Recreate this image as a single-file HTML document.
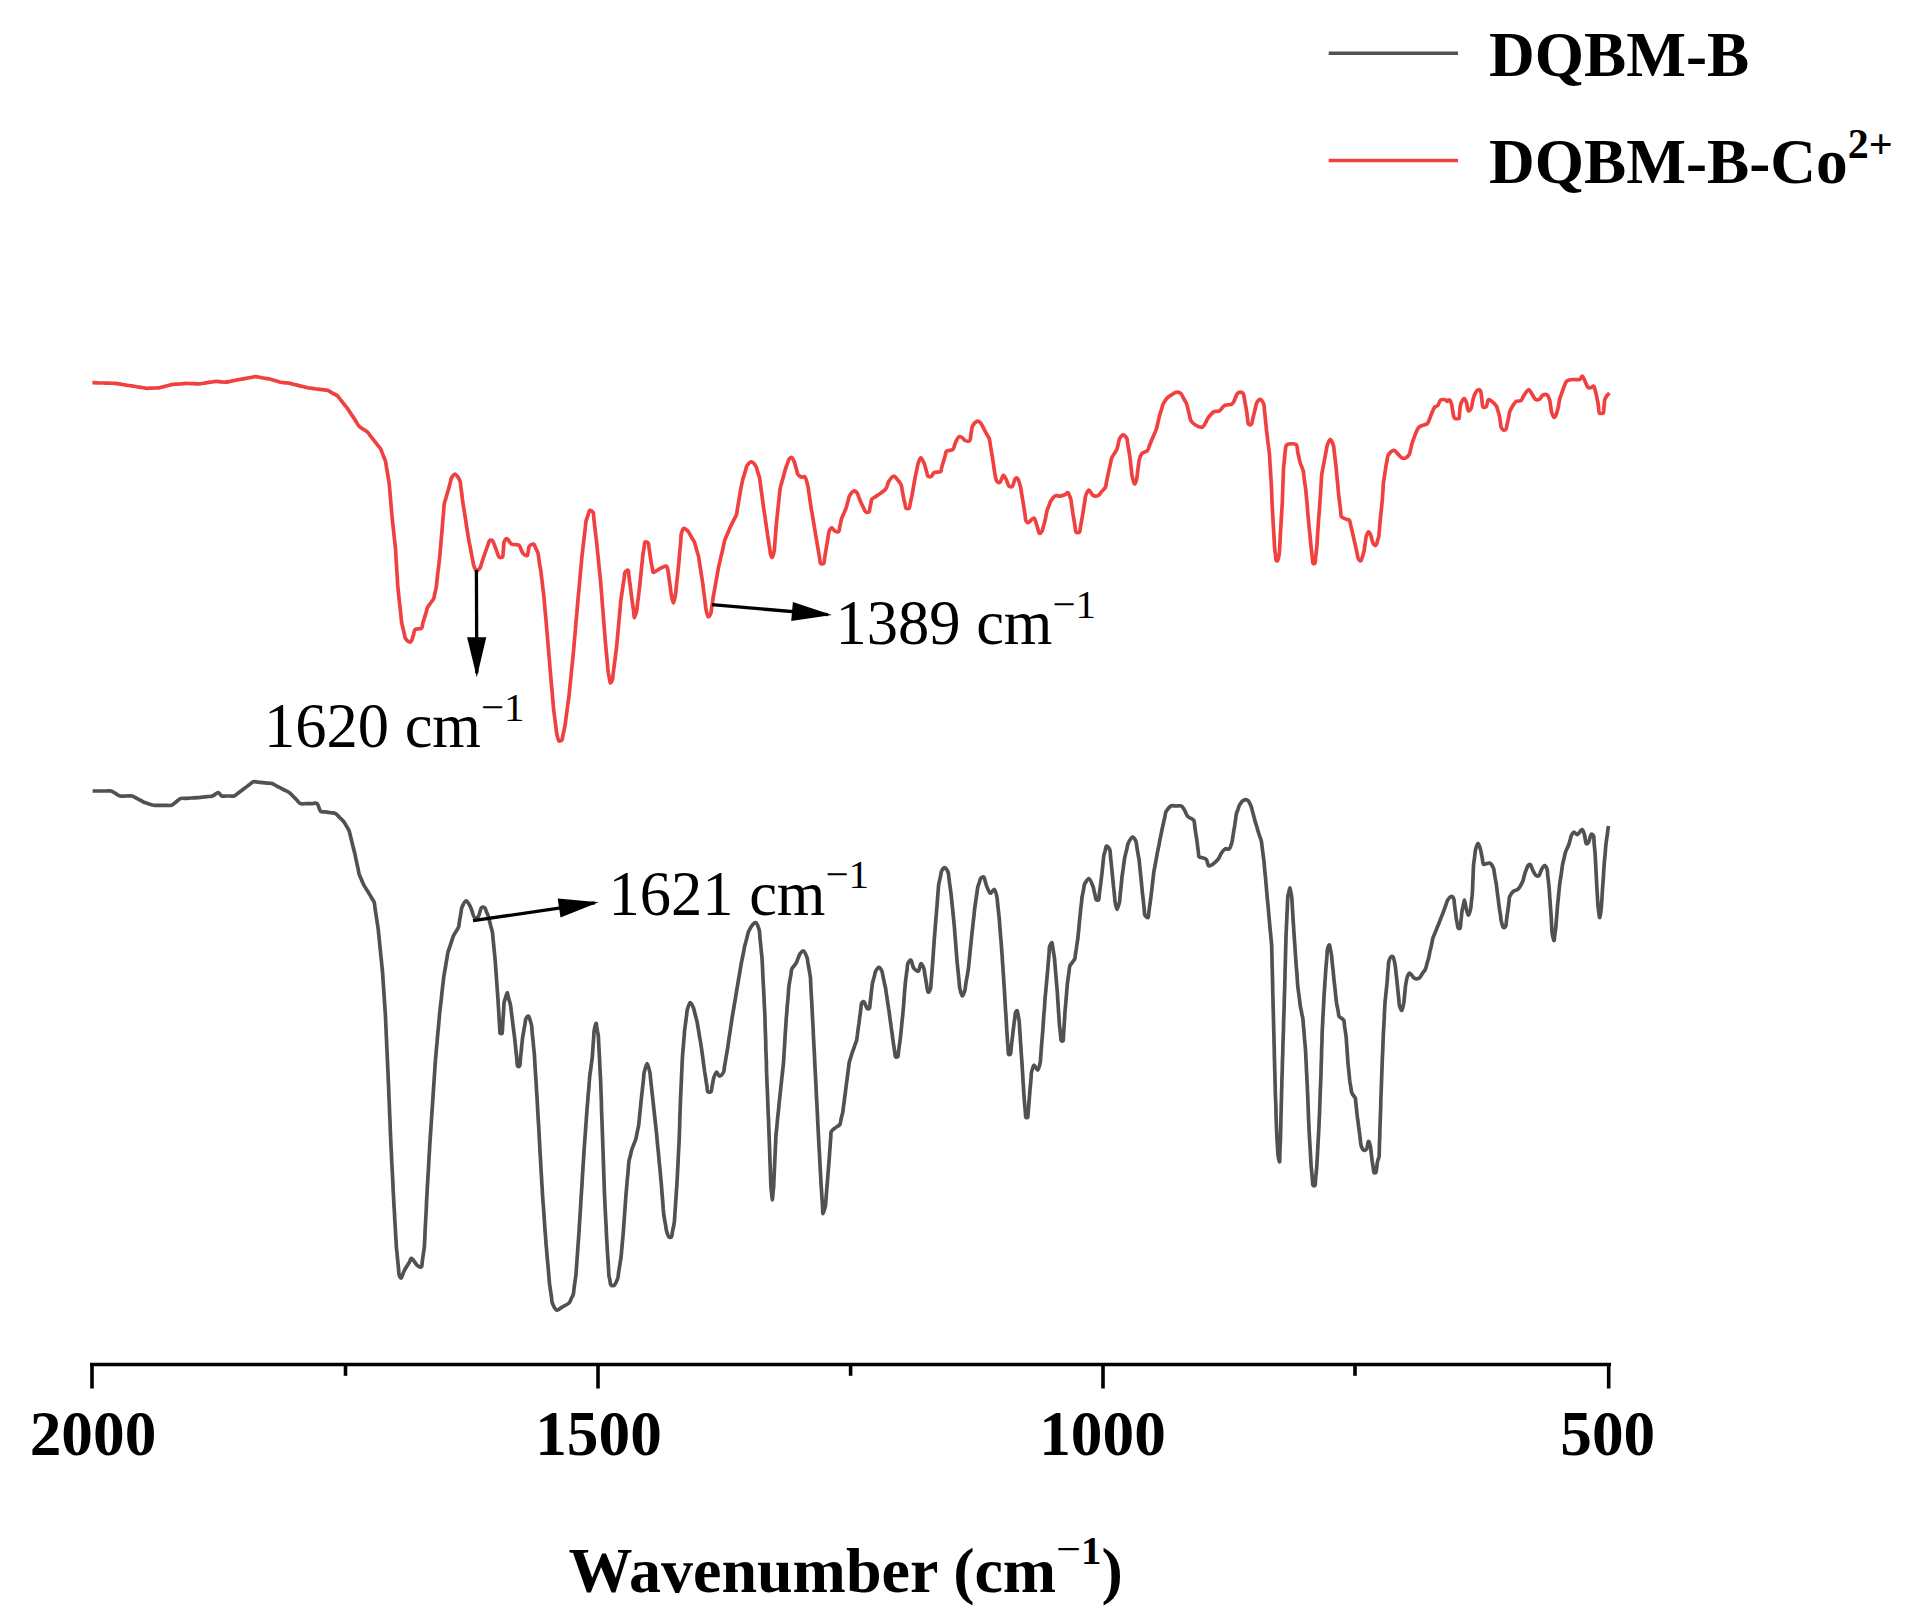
<!DOCTYPE html>
<html lang="en"><head><meta charset="utf-8"><title>FTIR spectra</title>
<style>
html,body{margin:0;padding:0;background:#fff;}
body{width:1909px;height:1617px;overflow:hidden;}
svg{display:block;}
text{font-family:"Liberation Serif","Times New Roman",serif;fill:#000;}
.tk{font-weight:bold;font-size:63.3px;}
.xl{font-weight:bold;font-size:64px;}
.lg{font-weight:bold;}
.an{font-weight:normal;}
</style></head><body>
<svg width="1909" height="1617" viewBox="0 0 1909 1617">
<rect width="1909" height="1617" fill="#fff"/>
<path fill="none" stroke="#F14040" stroke-width="3.7" stroke-linejoin="round" stroke-linecap="butt" d="M92.4,382.7C93.3,382.7 96.2,382.8 98.0,382.9C99.8,382.9 101.7,382.9 103.5,383.0C105.3,383.1 107.2,383.1 109.0,383.2C110.8,383.3 112.7,383.2 114.6,383.4C116.5,383.6 118.5,383.9 120.4,384.2C122.3,384.5 124.2,384.8 126.1,385.1C128.0,385.4 130.1,385.6 131.9,385.9C133.7,386.2 135.2,386.4 136.9,386.7C138.6,387.0 140.2,387.2 141.8,387.5C143.5,387.8 145.3,388.2 146.8,388.3C148.3,388.4 149.5,388.2 150.9,388.1C152.3,388.1 153.7,388.1 155.1,388.0C156.5,387.9 157.8,388.0 159.2,387.8C160.6,387.6 161.9,387.1 163.3,386.7C164.7,386.3 166.0,386.0 167.4,385.7C168.8,385.4 170.0,384.9 171.5,384.6C173.0,384.4 174.8,384.3 176.5,384.2C178.2,384.1 179.8,383.9 181.4,383.8C183.1,383.7 184.9,383.4 186.4,383.4C187.9,383.4 189.1,383.6 190.5,383.6C191.9,383.7 193.2,383.6 194.6,383.7C196.0,383.8 197.0,384.0 198.7,383.9C200.3,383.8 202.6,383.4 204.5,383.1C206.4,382.8 208.4,382.5 210.3,382.2C212.2,381.9 214.3,381.5 216.1,381.4C217.9,381.3 219.4,381.7 221.0,381.8C222.6,381.9 224.2,382.3 225.9,382.2C227.6,382.1 229.2,381.5 230.9,381.2C232.6,380.9 234.2,380.5 235.8,380.2C237.5,379.9 239.2,379.5 240.8,379.2C242.5,378.9 244.0,378.7 245.7,378.4C247.3,378.1 249.0,377.8 250.7,377.5C252.3,377.2 253.9,376.7 255.6,376.7C257.2,376.7 259.0,377.2 260.6,377.5C262.2,377.8 263.9,378.1 265.5,378.4C267.1,378.7 268.9,378.8 270.5,379.2C272.1,379.6 273.8,380.2 275.4,380.7C277.0,381.2 278.7,381.8 280.4,382.2C282.1,382.6 283.8,382.6 285.4,382.8C287.0,383.0 288.5,383.0 290.3,383.4C292.1,383.8 294.2,384.4 296.1,384.9C298.0,385.4 299.9,385.8 301.8,386.3C303.7,386.8 305.8,387.5 307.6,387.8C309.4,388.1 311.0,388.2 312.6,388.4C314.2,388.6 315.9,388.9 317.5,389.1C319.1,389.3 320.8,389.5 322.4,389.7C324.0,389.9 325.7,389.7 327.4,390.3C329.1,390.9 330.8,392.2 332.4,393.1C334.0,394.0 335.9,394.7 337.3,395.8C338.7,396.9 339.5,398.5 340.6,399.9C341.7,401.3 342.8,402.6 343.9,404.0C345.0,405.4 346.1,406.6 347.2,408.1C348.3,409.6 349.3,411.2 350.3,412.8C351.3,414.4 352.4,415.8 353.4,417.4C354.4,418.9 355.4,420.6 356.4,422.1C357.4,423.7 357.7,425.1 359.5,426.7C361.3,428.3 365.2,430.1 367.0,431.6C368.8,433.1 369.3,434.5 370.4,435.9C371.5,437.3 372.7,438.8 373.8,440.2C374.9,441.6 376.1,443.2 377.2,444.6C378.3,446.1 379.8,447.5 380.6,448.9C381.4,450.3 381.6,451.6 382.2,453.0C382.8,454.4 383.3,455.8 383.9,457.2C384.4,458.6 385.1,459.7 385.5,461.3C385.9,462.9 386.1,465.0 386.4,466.9C386.7,468.8 387.1,470.6 387.4,472.5C387.7,474.4 388.0,476.1 388.3,478.0C388.6,479.9 389.0,481.7 389.2,483.6C389.4,485.5 389.5,487.5 389.7,489.4C389.9,491.3 390.0,493.2 390.2,495.1C390.4,497.0 390.5,499.0 390.7,500.9C390.9,502.8 391.0,504.8 391.2,506.7C391.4,508.6 391.5,510.5 391.7,512.4C391.9,514.3 392.0,516.2 392.2,518.2C392.4,520.2 392.6,522.1 392.8,524.1C393.0,526.1 393.3,528.1 393.5,530.1C393.7,532.1 393.9,534.0 394.1,536.0C394.3,538.0 394.6,540.0 394.8,542.0C395.0,544.0 395.2,546.0 395.4,547.9C395.6,549.8 395.7,551.7 395.8,553.6C395.9,555.5 396.0,557.3 396.1,559.2C396.2,561.1 396.4,563.0 396.5,564.9C396.6,566.8 396.7,568.6 396.8,570.5C396.9,572.4 397.1,574.3 397.2,576.2C397.3,578.1 397.4,579.9 397.5,581.8C397.6,583.7 397.7,585.6 397.9,587.5C398.1,589.4 398.3,591.4 398.5,593.3C398.7,595.2 398.9,597.1 399.1,599.0C399.3,600.9 399.6,602.9 399.8,604.8C400.0,606.7 400.2,608.7 400.4,610.6C400.6,612.5 400.8,614.4 401.0,616.3C401.2,618.2 401.3,620.2 401.6,622.1C401.9,624.0 402.4,625.7 402.8,627.5C403.2,629.3 403.7,631.0 404.1,632.8C404.5,634.6 404.5,636.7 405.3,638.2C406.1,639.7 408.0,641.5 409.0,641.9C410.0,642.3 410.8,641.8 411.5,640.7C412.2,639.6 412.8,637.0 413.4,635.1C414.0,633.2 413.9,630.6 415.2,629.5C416.5,628.4 420.1,629.4 421.4,628.3C422.7,627.2 422.4,624.8 422.9,623.0C423.4,621.2 424.0,619.5 424.5,617.8C425.0,616.0 425.6,614.2 426.1,612.5C426.6,610.8 426.9,608.9 427.6,607.3C428.4,605.7 429.6,604.5 430.6,603.0C431.6,601.5 433.0,600.3 433.7,598.6C434.4,596.9 434.5,594.9 434.9,593.0C435.3,591.1 435.9,589.3 436.2,587.5C436.5,585.7 436.6,583.9 436.8,582.1C437.0,580.3 437.2,578.6 437.4,576.8C437.6,575.0 437.8,573.2 438.0,571.4C438.2,569.6 438.5,567.8 438.7,566.0C438.9,564.2 439.1,562.5 439.3,560.7C439.5,558.9 439.7,557.1 439.9,555.3C440.1,553.5 440.1,551.8 440.3,550.1C440.5,548.4 440.7,546.6 440.8,544.9C440.9,543.2 441.1,541.4 441.2,539.7C441.3,538.0 441.5,536.2 441.7,534.5C441.9,532.8 442.0,531.0 442.1,529.3C442.2,527.6 442.4,526.0 442.5,524.3C442.6,522.6 442.8,520.9 442.9,519.2C443.0,517.5 443.2,515.9 443.4,514.2C443.5,512.5 443.7,510.8 443.8,509.1C443.9,507.4 443.9,505.8 444.2,504.1C444.5,502.5 445.1,500.8 445.6,499.2C446.1,497.6 446.5,495.9 447.0,494.3C447.5,492.7 448.0,490.9 448.4,489.4C448.8,487.9 449.1,486.8 449.5,485.5C449.9,484.2 450.1,483.0 450.5,481.7C450.9,480.4 450.8,479.1 451.6,477.8C452.4,476.6 453.7,473.7 455.1,474.2C456.5,474.7 459.1,478.9 460.0,481.0C460.8,483.1 460.5,484.9 460.8,486.8C461.1,488.7 461.4,490.7 461.6,492.6C461.9,494.5 462.1,496.4 462.3,498.3C462.6,500.2 462.8,502.2 463.1,504.1C463.4,506.0 463.7,507.8 464.0,509.7C464.3,511.6 464.6,513.4 464.9,515.3C465.2,517.2 465.5,519.0 465.8,520.9C466.1,522.8 466.3,524.6 466.6,526.5C466.9,528.4 467.2,530.2 467.5,532.1C467.8,534.0 468.1,535.9 468.4,537.7C468.7,539.6 469.0,541.4 469.4,543.2C469.8,545.0 470.1,546.9 470.5,548.7C470.9,550.5 471.1,552.3 471.5,554.1C471.9,555.9 472.2,557.8 472.6,559.6C473.0,561.4 473.0,563.3 473.6,565.1C474.2,566.9 475.1,569.8 476.2,570.3C477.2,570.8 479.0,569.4 479.9,568.2C480.8,567.0 481.1,564.8 481.7,563.0C482.3,561.2 482.8,559.5 483.4,557.7C484.0,556.0 484.7,554.0 485.2,552.5C485.7,551.0 486.1,549.9 486.6,548.6C487.1,547.3 487.5,546.1 488.0,544.8C488.5,543.5 488.6,541.5 489.4,540.9C490.2,540.2 491.6,539.7 492.6,540.9C493.7,542.1 494.6,545.7 495.7,548.3C496.8,550.9 497.7,555.3 498.9,556.7C500.1,558.1 502.0,557.5 502.7,556.7C503.2,555.9 503.0,553.4 503.2,551.8C503.4,550.2 503.5,548.5 503.6,546.9C503.8,545.3 503.6,543.4 504.1,542.0C504.7,540.6 506.1,538.4 507.3,538.8C508.5,539.1 509.6,543.0 511.5,544.1C513.4,545.2 517.2,544.2 518.8,545.1C520.4,546.0 520.3,547.9 521.0,549.3C521.7,550.7 522.1,552.5 523.1,553.5C524.1,554.5 526.4,556.0 527.3,555.6C528.2,555.2 527.9,552.5 528.3,550.9C528.6,549.3 528.5,547.3 529.4,546.2C530.3,545.1 532.5,543.8 533.6,544.1C534.7,544.5 535.0,546.9 535.7,548.3C536.4,549.7 537.3,551.0 537.8,552.5C538.3,554.0 538.4,555.6 538.6,557.2C538.9,558.8 539.0,560.4 539.3,562.0C539.5,563.6 539.8,565.1 540.1,566.7C540.4,568.3 540.7,569.7 540.9,571.4C541.1,573.1 541.3,575.1 541.5,576.9C541.7,578.7 542.0,580.5 542.2,582.3C542.4,584.1 542.6,586.0 542.8,587.8C543.0,589.6 543.3,591.4 543.5,593.2C543.7,595.0 543.9,596.8 544.1,598.7C544.3,600.6 544.4,602.7 544.6,604.7C544.8,606.7 544.9,608.6 545.1,610.6C545.3,612.6 545.5,614.6 545.7,616.6C545.9,618.6 546.0,620.6 546.2,622.6C546.4,624.6 546.5,626.5 546.7,628.5C546.9,630.5 547.0,632.6 547.2,634.5C547.4,636.4 547.6,638.1 547.7,639.9C547.9,641.7 548.0,643.5 548.1,645.3C548.2,647.1 548.5,648.9 548.6,650.7C548.8,652.5 548.9,654.3 549.0,656.1C549.1,657.9 549.4,659.7 549.5,661.5C549.6,663.3 549.8,665.1 549.9,666.9C550.0,668.7 550.2,670.4 550.4,672.3C550.6,674.2 550.7,676.3 550.9,678.3C551.1,680.3 551.2,682.2 551.4,684.2C551.6,686.2 551.8,688.2 552.0,690.2C552.2,692.2 552.3,694.2 552.5,696.2C552.7,698.2 552.8,700.1 553.0,702.1C553.2,704.1 553.3,706.3 553.5,708.1C553.7,709.9 553.9,711.4 554.1,713.1C554.3,714.8 554.6,716.5 554.8,718.2C555.0,719.9 555.2,721.5 555.4,723.2C555.6,724.9 555.9,726.6 556.1,728.3C556.3,730.0 556.2,731.2 556.7,733.3C557.2,735.3 557.9,739.5 558.8,740.6C559.7,741.7 561.3,740.6 562.0,739.6C562.7,738.6 562.6,736.3 563.0,734.7C563.4,733.1 563.8,731.4 564.1,729.8C564.5,728.2 564.8,726.6 565.1,724.9C565.4,723.2 565.6,721.4 565.8,719.6C566.0,717.9 566.3,716.1 566.5,714.4C566.7,712.6 567.0,710.9 567.2,709.1C567.4,707.3 567.7,705.5 567.9,703.8C568.1,702.0 568.4,700.4 568.6,698.6C568.8,696.9 569.1,695.1 569.3,693.3C569.5,691.5 569.6,689.8 569.8,688.0C570.0,686.2 570.1,684.5 570.3,682.8C570.5,681.0 570.7,679.2 570.9,677.5C571.1,675.8 571.2,674.0 571.4,672.3C571.6,670.5 571.7,668.8 571.9,667.0C572.1,665.2 572.3,663.5 572.5,661.8C572.7,660.0 572.8,658.2 573.0,656.5C573.2,654.8 573.3,653.1 573.5,651.3C573.7,649.5 573.9,647.7 574.0,645.9C574.1,644.1 574.2,642.3 574.4,640.5C574.5,638.7 574.7,637.0 574.9,635.2C575.1,633.4 575.2,631.6 575.4,629.8C575.5,628.0 575.6,626.2 575.8,624.4C575.9,622.6 576.1,620.8 576.3,619.0C576.5,617.2 576.6,615.5 576.8,613.7C576.9,611.9 577.1,610.1 577.2,608.3C577.4,606.5 577.5,604.8 577.7,602.9C577.9,601.0 578.0,599.0 578.2,597.1C578.4,595.2 578.6,593.3 578.8,591.4C579.0,589.5 579.1,587.5 579.3,585.6C579.5,583.7 579.6,581.7 579.8,579.8C580.0,577.9 580.1,575.9 580.3,574.0C580.5,572.1 580.7,570.1 580.9,568.2C581.1,566.3 581.2,564.4 581.4,562.5C581.6,560.6 581.7,558.5 581.9,556.7C582.1,554.9 582.3,553.3 582.5,551.6C582.7,549.9 582.9,548.2 583.1,546.5C583.3,544.8 583.5,543.1 583.7,541.4C583.9,539.7 584.1,537.9 584.3,536.2C584.5,534.5 584.7,532.8 584.9,531.1C585.1,529.4 585.3,527.7 585.5,526.0C585.7,524.3 585.7,522.6 586.1,520.9C586.5,519.2 587.3,517.4 587.9,515.6C588.5,513.9 588.8,510.9 589.7,510.4C590.6,509.9 592.4,511.2 593.1,512.5C593.8,513.8 593.6,516.4 593.8,518.4C594.0,520.4 594.3,522.3 594.5,524.3C594.7,526.3 595.0,528.2 595.2,530.2C595.4,532.2 595.7,534.1 595.9,536.1C596.1,538.1 596.4,540.1 596.6,542.0C596.8,543.9 596.9,545.5 597.1,547.2C597.3,549.0 597.4,550.7 597.6,552.5C597.8,554.3 598.0,556.0 598.2,557.8C598.4,559.5 598.5,561.3 598.7,563.0C598.9,564.7 599.0,566.5 599.2,568.2C599.4,570.0 599.6,571.7 599.8,573.5C600.0,575.3 600.1,577.0 600.3,578.8C600.5,580.5 600.6,582.2 600.8,584.0C600.9,585.8 601.1,587.7 601.2,589.5C601.4,591.3 601.6,593.1 601.7,594.9C601.9,596.7 602.0,598.6 602.1,600.4C602.2,602.2 602.4,604.1 602.5,605.9C602.6,607.7 602.9,609.6 603.0,611.4C603.1,613.2 603.3,615.0 603.4,616.8C603.5,618.6 603.7,620.5 603.8,622.3C603.9,624.1 604.1,626.0 604.2,627.8C604.4,629.6 604.6,631.4 604.7,633.2C604.9,635.0 605.0,636.9 605.1,638.7C605.2,640.6 605.4,642.4 605.6,644.3C605.8,646.2 605.9,648.0 606.1,649.9C606.3,651.8 606.5,653.6 606.7,655.5C606.9,657.4 607.0,659.2 607.2,661.1C607.4,663.0 607.5,664.8 607.7,666.7C607.9,668.6 608.0,670.5 608.2,672.3C608.5,674.1 608.9,675.8 609.2,677.5C609.6,679.2 609.8,682.4 610.3,682.8C610.8,683.2 611.9,681.1 612.4,679.7C612.9,678.3 612.9,676.1 613.1,674.3C613.3,672.5 613.6,670.6 613.8,668.8C614.0,667.0 614.3,665.2 614.5,663.4C614.7,661.6 615.0,659.8 615.2,658.0C615.4,656.2 615.7,654.3 615.9,652.5C616.1,650.7 616.4,649.0 616.6,647.1C616.8,645.2 616.9,643.2 617.1,641.3C617.3,639.4 617.4,637.4 617.6,635.5C617.8,633.6 618.0,631.6 618.2,629.7C618.4,627.8 618.5,625.9 618.7,624.0C618.9,622.1 619.0,620.1 619.2,618.2C619.4,616.3 619.6,614.3 619.8,612.4C620.0,610.5 620.1,608.5 620.3,606.6C620.5,604.7 620.6,602.7 620.8,600.8C621.0,598.9 621.3,597.0 621.6,595.1C621.9,593.2 622.2,591.3 622.5,589.4C622.8,587.5 623.0,585.7 623.3,583.8C623.6,581.9 623.9,580.0 624.2,578.1C624.5,576.2 624.3,573.7 625.0,572.4C625.7,571.1 627.6,569.8 628.2,570.3C628.8,570.8 628.6,573.5 628.8,575.1C629.0,576.7 629.2,578.4 629.4,580.0C629.6,581.6 629.9,583.2 630.1,584.8C630.3,586.4 630.5,588.1 630.7,589.7C630.9,591.3 631.1,592.7 631.3,594.5C631.5,596.3 631.8,598.4 632.1,600.3C632.4,602.2 632.6,604.1 632.9,606.0C633.2,607.9 633.4,609.9 633.7,611.8C634.0,613.7 634.0,617.7 634.5,617.6C635.0,617.5 636.1,613.2 636.6,611.3C637.1,609.4 637.0,608.0 637.2,606.3C637.4,604.6 637.6,602.9 637.8,601.2C638.0,599.5 638.3,597.9 638.5,596.2C638.7,594.5 638.9,592.8 639.1,591.1C639.3,589.4 639.5,587.8 639.7,586.1C639.9,584.4 640.0,582.6 640.2,580.9C640.4,579.1 640.6,577.4 640.8,575.6C641.0,573.9 641.1,572.1 641.3,570.4C641.5,568.6 641.6,566.9 641.8,565.1C642.0,563.4 642.2,561.6 642.4,559.9C642.6,558.1 642.7,556.2 642.9,554.6C643.1,553.0 643.4,551.8 643.6,550.4C643.8,549.0 644.1,547.6 644.3,546.2C644.5,544.8 644.4,542.5 645.0,542.0C645.6,541.5 647.5,542.0 648.2,543.0C648.9,544.0 648.7,546.3 649.0,548.0C649.3,549.7 649.5,551.3 649.8,553.0C650.0,554.7 650.2,556.3 650.5,558.0C650.8,559.7 651.0,561.4 651.3,563.0C651.6,564.6 651.9,566.1 652.3,567.7C652.6,569.3 652.3,572.1 653.4,572.4C654.5,572.7 656.6,570.3 658.7,569.3C660.8,568.2 664.4,565.8 666.0,566.1C667.6,566.5 667.6,569.5 668.1,571.4C668.6,573.2 668.6,575.3 668.9,577.2C669.2,579.1 669.4,581.1 669.7,583.0C670.0,584.9 670.2,586.8 670.5,588.7C670.8,590.6 670.8,592.1 671.3,594.5C671.8,596.9 672.7,602.9 673.4,602.9C674.1,602.9 675.0,596.9 675.5,594.5C676.0,592.1 675.9,590.6 676.1,588.6C676.3,586.6 676.5,584.7 676.7,582.7C676.9,580.8 677.2,578.9 677.4,576.9C677.6,574.9 677.8,573.0 678.0,571.0C678.2,569.0 678.4,567.0 678.6,565.1C678.8,563.2 679.0,561.5 679.1,559.8C679.2,558.0 679.4,556.4 679.5,554.6C679.6,552.9 679.8,551.1 680.0,549.3C680.2,547.5 680.4,545.8 680.5,544.0C680.6,542.2 680.8,540.5 680.9,538.8C681.0,537.0 680.9,535.2 681.4,533.5C681.9,531.8 682.8,528.6 683.9,528.3C685.0,527.9 687.0,530.3 688.1,531.4C689.2,532.5 689.5,533.7 690.2,534.9C690.9,536.1 691.6,537.3 692.3,538.5C693.0,539.7 693.8,540.6 694.4,542.0C695.0,543.4 695.3,545.3 695.8,546.9C696.3,548.5 696.7,550.2 697.2,551.8C697.7,553.4 698.2,555.0 698.6,556.7C699.0,558.4 699.1,560.4 699.4,562.2C699.7,564.0 700.0,565.8 700.3,567.6C700.6,569.4 700.8,571.3 701.1,573.1C701.4,574.9 701.7,576.7 702.0,578.5C702.3,580.3 702.6,582.2 702.8,584.0C703.0,585.8 703.2,587.3 703.4,589.0C703.6,590.7 703.9,592.4 704.1,594.1C704.3,595.8 704.5,597.4 704.7,599.1C704.9,600.8 705.2,602.5 705.4,604.2C705.6,605.9 705.5,607.1 706.0,609.2C706.5,611.3 707.3,615.9 708.1,616.6C708.9,617.3 710.2,614.9 710.8,613.4C711.4,611.9 711.3,609.7 711.6,607.8C711.9,605.9 712.2,604.1 712.5,602.2C712.8,600.3 713.0,598.5 713.3,596.6C713.6,594.7 714.0,592.7 714.4,590.7C714.8,588.7 715.0,586.8 715.4,584.8C715.8,582.8 716.1,581.0 716.5,579.0C716.9,577.0 717.1,575.1 717.5,573.1C717.9,571.1 718.2,569.1 718.6,567.2C719.0,565.3 719.5,563.5 719.9,561.7C720.3,559.9 720.7,558.0 721.1,556.2C721.5,554.4 722.0,552.6 722.4,550.8C722.8,549.0 723.2,547.1 723.6,545.3C724.0,543.5 724.4,541.4 724.9,539.8C725.4,538.2 726.1,537.0 726.7,535.6C727.3,534.2 727.8,532.8 728.4,531.4C729.0,530.0 729.6,528.6 730.2,527.2C730.9,525.8 731.6,524.4 732.3,523.0C733.0,521.6 733.7,520.2 734.4,518.8C735.1,517.4 736.0,516.1 736.5,514.6C737.0,513.1 737.0,511.3 737.3,509.6C737.6,507.9 737.9,506.2 738.2,504.5C738.5,502.8 738.7,501.2 739.0,499.5C739.3,497.8 739.6,496.1 739.9,494.4C740.2,492.7 740.4,491.0 740.7,489.4C741.0,487.8 741.4,486.1 741.7,484.5C742.0,482.9 742.3,481.3 742.7,479.7C743.1,478.1 743.7,476.6 744.2,475.0C744.7,473.4 745.1,471.8 745.6,470.2C746.1,468.6 746.1,466.9 747.1,465.5C748.1,464.1 750.1,461.8 751.6,461.9C753.1,462.0 755.1,465.0 756.0,466.4C756.9,467.8 756.8,469.0 757.2,470.3C757.6,471.6 758.0,472.8 758.4,474.1C758.8,475.4 759.3,476.5 759.6,478.0C759.9,479.5 760.1,481.5 760.3,483.3C760.5,485.1 760.8,486.9 761.0,488.7C761.2,490.5 761.5,492.2 761.8,494.0C762.0,495.8 762.3,497.6 762.5,499.4C762.7,501.2 763.0,503.0 763.2,504.7C763.4,506.4 763.6,508.1 763.9,509.8C764.1,511.5 764.5,513.1 764.7,514.8C765.0,516.5 765.2,518.2 765.4,519.9C765.6,521.6 765.9,523.2 766.1,524.9C766.4,526.6 766.6,528.3 766.9,530.0C767.1,531.7 767.4,533.4 767.6,535.0C767.9,536.6 768.1,538.3 768.4,539.9C768.6,541.5 768.9,543.2 769.1,544.8C769.4,546.4 769.6,548.0 769.9,549.6C770.1,551.2 770.2,553.2 770.6,554.5C771.0,555.8 771.8,557.8 772.4,557.2C773.0,556.6 773.8,553.0 774.2,551.0C774.6,549.0 774.6,547.2 774.7,545.3C774.9,543.4 775.0,541.5 775.1,539.6C775.2,537.7 775.5,535.8 775.6,533.9C775.8,532.0 775.9,530.1 776.0,528.2C776.1,526.3 776.3,524.4 776.5,522.5C776.7,520.6 776.9,518.8 777.1,516.9C777.3,515.0 777.5,513.1 777.7,511.2C777.9,509.3 778.1,507.5 778.3,505.6C778.5,503.7 778.7,501.8 778.9,499.9C779.1,498.0 779.3,496.1 779.5,494.2C779.7,492.3 779.8,490.4 780.1,488.6C780.4,486.9 781.0,485.3 781.4,483.7C781.8,482.1 782.3,480.5 782.8,478.9C783.2,477.3 783.7,475.6 784.1,474.0C784.5,472.4 784.9,470.7 785.4,469.1C785.9,467.5 786.6,465.8 787.2,464.2C787.8,462.6 788.2,460.4 789.0,459.3C789.8,458.2 790.8,457.1 791.7,457.5C792.6,457.9 793.7,460.5 794.3,461.9C794.9,463.3 795.1,464.7 795.5,466.1C795.9,467.5 796.3,468.8 796.7,470.2C797.1,471.6 797.1,473.2 797.9,474.4C798.7,475.5 800.2,476.7 801.4,477.1C802.6,477.6 804.0,475.8 805.0,477.1C806.0,478.4 807.1,482.8 807.7,485.1C808.3,487.4 808.3,489.0 808.6,490.9C808.9,492.8 809.2,494.7 809.5,496.6C809.8,498.5 810.0,500.5 810.3,502.4C810.6,504.3 810.9,506.3 811.2,508.2C811.5,510.1 811.8,511.7 812.1,513.5C812.4,515.3 812.7,517.1 813.0,518.9C813.3,520.7 813.6,522.4 813.9,524.2C814.2,526.0 814.5,527.8 814.8,529.6C815.1,531.4 815.4,533.2 815.7,535.0C816.0,536.8 816.3,538.5 816.6,540.3C816.9,542.1 817.2,543.8 817.5,545.6C817.8,547.4 818.1,549.4 818.4,551.0C818.7,552.6 818.9,553.7 819.1,555.1C819.3,556.5 819.6,557.9 819.8,559.3C820.0,560.7 819.9,562.7 820.5,563.4C821.1,564.1 823.0,564.3 823.7,563.4C824.4,562.5 824.3,559.9 824.6,558.1C824.9,556.3 825.2,554.5 825.5,552.7C825.8,550.9 826.1,549.2 826.4,547.4C826.7,545.6 827.0,543.9 827.3,542.1C827.6,540.3 827.9,538.5 828.2,536.7C828.5,534.9 828.5,532.9 829.1,531.4C829.7,529.9 830.7,527.8 831.7,527.8C832.7,527.8 834.1,530.8 835.3,531.4C836.5,532.0 838.1,532.1 838.8,531.4C839.5,530.7 839.4,528.6 839.7,527.2C840.0,525.8 840.3,524.5 840.6,523.1C840.9,521.7 841.0,520.5 841.5,518.9C842.0,517.3 843.0,515.3 843.8,513.5C844.5,511.7 845.4,509.8 846.0,508.2C846.6,506.6 846.8,505.5 847.2,504.1C847.6,502.7 847.9,501.3 848.3,499.9C848.7,498.5 848.7,497.2 849.5,495.8C850.3,494.4 851.9,491.9 853.1,491.3C854.3,490.7 855.7,491.2 856.7,492.2C857.7,493.2 858.2,495.7 858.9,497.5C859.6,499.3 860.4,501.2 861.1,502.9C861.9,504.5 862.6,505.9 863.4,507.4C864.1,508.9 864.6,511.1 865.6,511.8C866.6,512.5 868.4,512.5 869.1,511.8C869.8,511.1 869.7,509.0 870.0,507.6C870.3,506.2 870.6,504.9 870.9,503.5C871.2,502.1 871.0,500.4 871.8,499.3C872.5,498.2 873.9,497.7 875.4,496.7C876.9,495.7 878.9,494.5 880.7,493.1C882.5,491.8 884.7,490.5 886.0,488.6C887.3,486.7 887.5,483.6 888.7,481.5C890.0,479.4 892.0,476.5 893.5,476.2C895.0,475.9 896.3,478.2 897.6,479.7C898.9,481.2 900.5,483.4 901.2,485.1C902.0,486.8 901.8,488.2 902.1,489.8C902.4,491.4 902.7,493.0 903.0,494.6C903.3,496.2 903.6,497.8 903.9,499.3C904.2,500.8 904.6,502.3 905.0,503.8C905.4,505.3 905.3,507.5 906.0,508.2C906.7,508.9 908.5,508.9 909.2,508.2C909.9,507.5 909.8,505.5 910.1,504.1C910.4,502.7 910.7,501.3 911.0,499.9C911.3,498.5 911.6,497.3 911.9,495.8C912.2,494.3 912.5,492.5 912.8,490.9C913.1,489.3 913.3,487.6 913.6,486.0C913.9,484.4 914.2,482.7 914.5,481.1C914.8,479.5 915.1,477.7 915.4,476.2C915.7,474.7 916.0,473.4 916.3,472.0C916.6,470.6 916.9,469.3 917.2,467.9C917.5,466.5 917.5,465.4 918.1,463.7C918.7,462.0 919.8,457.5 920.8,457.5C921.8,457.5 923.5,462.0 924.3,463.7C925.1,465.4 925.1,466.5 925.5,467.9C925.9,469.3 926.3,470.6 926.7,472.0C927.1,473.4 927.1,475.5 927.9,476.2C928.7,476.9 930.5,476.8 931.5,476.2C932.5,475.6 932.6,473.4 934.1,472.6C935.6,471.9 939.1,472.5 940.4,471.7C941.6,470.9 941.2,469.1 941.6,467.8C942.0,466.5 942.3,465.3 942.7,464.0C943.1,462.7 943.5,461.5 943.9,460.1C944.3,458.7 944.8,457.1 945.2,455.6C945.7,454.1 945.3,452.2 946.6,451.2C947.9,450.2 951.5,450.5 952.8,449.5C954.1,448.5 954.0,446.6 954.6,445.1C955.2,443.6 955.6,442.0 956.4,440.6C957.1,439.2 958.1,437.1 959.1,436.6C960.1,436.2 961.6,437.2 962.6,437.9C963.6,438.6 964.1,440.2 965.3,440.6C966.5,441.1 968.9,441.4 969.8,440.6C970.7,439.8 970.4,437.4 970.7,435.8C971.0,434.2 971.2,432.7 971.5,431.1C971.8,429.5 971.5,427.9 972.4,426.3C973.3,424.7 975.6,421.9 976.9,421.3C978.2,420.7 979.2,421.4 980.4,422.7C981.6,424.0 983.0,427.1 984.0,429.0C985.0,430.9 985.7,432.3 986.6,433.9C987.5,435.5 988.7,437.1 989.3,438.8C989.9,440.5 989.9,442.3 990.2,444.1C990.5,445.9 990.8,447.7 991.1,449.5C991.4,451.3 991.7,453.2 992.0,454.8C992.3,456.4 992.5,457.7 992.7,459.2C992.9,460.7 993.2,462.2 993.4,463.7C993.6,465.2 993.8,466.7 994.0,468.2C994.2,469.7 994.3,470.5 994.7,472.6C995.1,474.7 995.6,479.0 996.5,480.6C997.4,482.2 998.9,483.3 1000.0,482.4C1001.1,481.5 1002.2,475.8 1003.2,475.3C1004.2,474.9 1005.3,477.9 1006.3,479.7C1007.2,481.5 1007.9,484.9 1008.9,486.0C1009.9,487.1 1011.5,487.2 1012.5,486.0C1013.5,484.8 1014.3,480.0 1015.2,478.8C1016.1,477.6 1016.9,477.5 1017.8,478.8C1018.7,480.1 1019.9,484.7 1020.5,486.9C1021.1,489.1 1021.1,490.4 1021.4,492.2C1021.7,494.0 1022.0,495.8 1022.3,497.6C1022.6,499.4 1022.9,501.3 1023.2,502.9C1023.5,504.5 1023.7,505.9 1023.9,507.4C1024.1,508.9 1024.4,510.3 1024.6,511.8C1024.8,513.3 1025.0,514.7 1025.2,516.2C1025.4,517.7 1025.4,519.7 1025.9,520.7C1026.5,521.8 1027.2,523.0 1028.5,522.5C1029.8,522.0 1032.6,517.7 1033.9,518.0C1035.2,518.3 1035.8,522.5 1036.5,524.3C1037.2,526.1 1037.3,527.3 1037.8,528.8C1038.2,530.3 1038.5,532.8 1039.2,533.2C1039.9,533.6 1041.2,532.4 1041.9,531.4C1042.6,530.4 1042.8,528.5 1043.2,527.0C1043.7,525.5 1044.2,524.0 1044.6,522.5C1045.0,521.0 1045.2,519.7 1045.5,518.3C1045.8,516.9 1046.0,515.6 1046.3,514.2C1046.6,512.8 1046.8,511.4 1047.2,510.0C1047.7,508.6 1048.4,507.1 1049.0,505.6C1049.6,504.1 1049.8,502.7 1050.8,501.1C1051.8,499.5 1053.7,496.6 1055.2,495.8C1056.7,495.0 1058.3,496.4 1060.0,496.2C1061.7,496.0 1064.0,495.1 1065.3,494.5C1066.6,493.9 1067.1,492.0 1068.0,492.7C1068.9,493.4 1070.1,497.1 1070.7,498.9C1071.3,500.7 1071.2,501.9 1071.4,503.4C1071.6,504.9 1071.9,506.3 1072.1,507.8C1072.3,509.3 1072.5,510.7 1072.7,512.2C1072.9,513.7 1073.1,515.1 1073.4,516.7C1073.7,518.3 1074.0,520.1 1074.3,521.8C1074.6,523.5 1074.8,525.1 1075.1,526.8C1075.4,528.5 1075.2,531.0 1076.0,531.9C1076.8,532.8 1078.8,532.8 1079.6,531.9C1080.3,531.0 1080.2,528.5 1080.5,526.8C1080.8,525.1 1081.1,523.5 1081.4,521.8C1081.7,520.1 1082.0,518.4 1082.3,516.7C1082.6,515.0 1082.9,513.2 1083.2,511.4C1083.5,509.6 1083.7,507.9 1084.0,506.1C1084.3,504.3 1084.6,502.5 1084.9,500.7C1085.2,498.9 1085.1,497.2 1085.8,495.4C1086.5,493.6 1087.7,490.0 1088.9,490.0C1090.1,490.0 1091.3,494.5 1092.9,495.4C1094.5,496.3 1096.8,496.1 1098.3,495.4C1099.8,494.7 1100.6,492.8 1101.8,491.4C1103.0,490.0 1104.7,488.7 1105.4,487.3C1106.2,485.9 1106.0,484.4 1106.3,482.9C1106.6,481.4 1106.9,479.9 1107.2,478.4C1107.5,476.9 1107.8,475.6 1108.1,474.0C1108.4,472.4 1108.9,470.5 1109.3,468.7C1109.7,466.9 1110.1,465.1 1110.5,463.3C1110.9,461.5 1111.1,459.6 1111.7,458.0C1112.3,456.4 1113.4,455.1 1114.3,453.6C1115.2,452.1 1116.3,450.7 1117.0,449.1C1117.7,447.5 1117.8,445.6 1118.3,443.8C1118.8,442.0 1118.9,439.9 1119.7,438.4C1120.5,436.9 1122.0,434.8 1123.2,434.8C1124.4,434.8 1126.0,436.9 1126.8,438.4C1127.5,439.9 1127.4,441.9 1127.7,443.7C1128.0,445.5 1128.3,447.3 1128.6,449.1C1128.9,450.9 1129.2,452.6 1129.5,454.4C1129.8,456.2 1130.0,458.0 1130.2,459.8C1130.4,461.6 1130.6,463.3 1130.8,465.1C1131.0,466.9 1131.2,468.6 1131.4,470.4C1131.6,472.2 1131.6,473.6 1132.1,475.8C1132.6,478.0 1133.7,483.2 1134.4,483.8C1135.2,484.4 1136.1,480.9 1136.6,479.3C1137.1,477.7 1137.1,476.0 1137.3,474.4C1137.5,472.8 1137.7,471.1 1137.9,469.5C1138.1,467.9 1138.4,466.2 1138.6,464.6C1138.8,463.0 1138.8,461.6 1139.3,459.7C1139.8,457.8 1140.6,455.0 1141.9,453.5C1143.2,452.0 1146.0,452.1 1147.3,450.8C1148.6,449.5 1148.8,447.3 1149.5,445.5C1150.2,443.7 1151.0,441.9 1151.7,440.1C1152.5,438.3 1153.2,436.6 1154.0,434.8C1154.8,433.0 1155.6,431.2 1156.2,429.5C1156.8,427.8 1157.0,426.3 1157.4,424.7C1157.8,423.1 1158.1,421.6 1158.5,420.0C1158.9,418.4 1159.3,416.6 1159.7,415.2C1160.1,413.8 1160.5,412.6 1160.9,411.3C1161.3,410.0 1161.7,408.8 1162.1,407.5C1162.5,406.2 1162.3,405.3 1163.3,403.6C1164.2,401.9 1166.2,399.0 1167.8,397.4C1169.4,395.8 1171.5,394.7 1173.1,393.8C1174.7,392.9 1175.9,392.1 1177.2,392.1C1178.5,392.1 1180.0,392.7 1181.1,393.8C1182.2,394.9 1182.9,397.1 1183.8,398.7C1184.7,400.3 1185.8,401.8 1186.5,403.6C1187.2,405.4 1187.5,407.4 1188.0,409.3C1188.5,411.2 1188.9,413.0 1189.4,414.9C1189.9,416.8 1189.9,418.9 1190.9,420.6C1191.9,422.3 1193.6,423.9 1195.4,425.0C1197.2,426.1 1200.1,427.3 1201.6,427.3C1203.1,427.3 1203.5,426.1 1204.3,425.0C1205.1,423.9 1205.8,422.3 1206.5,421.0C1207.2,419.7 1207.4,418.6 1208.7,417.0C1210.0,415.4 1212.3,412.7 1214.1,411.7C1215.9,410.7 1217.6,411.9 1219.4,410.8C1221.2,409.8 1222.8,406.4 1224.7,405.4C1226.6,404.3 1229.5,405.1 1231.0,404.5C1232.5,403.9 1232.7,403.7 1233.7,401.9C1234.7,400.1 1236.0,395.4 1237.2,393.8C1238.4,392.2 1239.8,392.1 1240.8,392.1C1241.8,392.1 1242.8,392.7 1243.4,393.8C1244.0,394.9 1244.0,397.0 1244.3,398.6C1244.6,400.2 1244.9,401.7 1245.2,403.3C1245.5,404.9 1245.8,406.4 1246.1,408.1C1246.4,409.8 1246.7,411.6 1246.9,413.4C1247.2,415.2 1247.3,417.0 1247.6,418.8C1247.8,420.6 1247.8,423.2 1248.4,424.1C1249.1,425.0 1250.8,425.0 1251.5,424.1C1252.2,423.2 1252.4,420.6 1252.8,418.8C1253.2,417.0 1253.7,415.2 1254.1,413.4C1254.5,411.6 1255.0,409.8 1255.4,408.0C1255.9,406.2 1256.0,404.1 1256.8,402.7C1257.6,401.3 1259.2,399.2 1260.4,399.5C1261.6,399.8 1263.2,402.8 1263.9,404.5C1264.4,406.2 1264.2,408.0 1264.4,409.8C1264.6,411.6 1264.8,413.4 1265.0,415.2C1265.2,417.0 1265.3,418.7 1265.5,420.5C1265.7,422.3 1265.9,424.1 1266.1,425.9C1266.3,427.7 1266.4,429.4 1266.6,431.2C1266.8,433.0 1267.1,434.8 1267.3,436.6C1267.5,438.4 1267.7,440.1 1267.9,441.9C1268.1,443.7 1268.4,445.4 1268.6,447.2C1268.8,449.0 1269.1,450.8 1269.3,452.6C1269.5,454.5 1269.6,456.4 1269.7,458.3C1269.8,460.2 1269.9,462.1 1270.0,464.0C1270.1,465.9 1270.3,467.8 1270.4,469.7C1270.5,471.6 1270.6,473.5 1270.7,475.4C1270.8,477.3 1271.0,479.2 1271.1,481.1C1271.2,483.0 1271.3,485.0 1271.4,487.0C1271.5,489.0 1271.6,491.0 1271.7,493.0C1271.8,495.0 1271.8,496.9 1271.9,498.9C1272.0,500.9 1272.1,502.8 1272.2,504.8C1272.3,506.8 1272.4,508.8 1272.5,510.8C1272.6,512.8 1272.7,514.9 1272.8,516.7C1272.9,518.5 1273.0,520.1 1273.1,521.8C1273.2,523.5 1273.3,525.1 1273.4,526.8C1273.5,528.5 1273.6,530.2 1273.7,531.9C1273.8,533.6 1273.9,535.2 1274.0,536.9C1274.1,538.6 1274.2,540.3 1274.3,542.0C1274.4,543.7 1274.5,545.5 1274.6,547.0C1274.7,548.5 1274.8,549.8 1275.0,551.2C1275.2,552.6 1275.3,553.9 1275.5,555.3C1275.7,556.7 1275.6,558.6 1275.9,559.5C1276.2,560.4 1277.0,561.6 1277.6,560.4C1278.2,559.2 1279.1,554.6 1279.4,552.4C1279.7,550.2 1279.6,549.1 1279.7,547.4C1279.8,545.7 1279.9,544.1 1280.0,542.4C1280.1,540.7 1280.1,539.1 1280.2,537.4C1280.3,535.7 1280.4,534.1 1280.5,532.4C1280.6,530.7 1280.7,529.1 1280.8,527.4C1280.9,525.7 1281.0,524.1 1281.1,522.4C1281.2,520.7 1281.3,519.0 1281.4,517.4C1281.5,515.8 1281.6,514.1 1281.7,512.5C1281.8,510.9 1281.9,509.2 1282.0,507.5C1282.1,505.8 1282.2,504.3 1282.3,502.5C1282.4,500.7 1282.4,498.8 1282.5,496.9C1282.6,495.0 1282.6,493.1 1282.7,491.2C1282.8,489.3 1282.8,487.5 1282.9,485.6C1283.0,483.7 1283.0,481.8 1283.1,479.9C1283.2,478.0 1283.2,476.1 1283.3,474.2C1283.4,472.3 1283.4,470.5 1283.5,468.6C1283.6,466.7 1283.9,464.7 1284.1,462.7C1284.3,460.7 1284.5,458.7 1284.7,456.7C1284.9,454.7 1284.9,452.8 1285.3,450.8C1285.7,448.8 1285.3,445.6 1287.1,444.6C1288.9,443.6 1294.2,443.3 1296.0,444.6C1297.8,445.9 1297.3,450.4 1297.8,452.6C1298.3,454.8 1298.7,456.2 1299.1,458.0C1299.5,459.8 1299.7,461.2 1300.4,463.3C1301.1,465.4 1302.5,468.4 1303.1,470.4C1303.7,472.4 1303.6,473.7 1303.8,475.3C1304.0,476.9 1304.2,478.6 1304.4,480.2C1304.6,481.8 1304.9,483.5 1305.1,485.1C1305.3,486.7 1305.6,488.3 1305.8,490.0C1306.0,491.7 1306.0,493.4 1306.2,495.1C1306.4,496.8 1306.5,498.4 1306.7,500.1C1306.9,501.8 1307.1,503.4 1307.2,505.1C1307.3,506.8 1307.5,508.5 1307.6,510.2C1307.7,511.9 1307.8,513.5 1308.0,515.2C1308.2,516.9 1308.3,518.6 1308.5,520.3C1308.7,522.0 1308.8,523.8 1309.0,525.6C1309.2,527.4 1309.3,529.2 1309.5,531.0C1309.7,532.8 1309.9,534.5 1310.1,536.3C1310.3,538.1 1310.4,539.9 1310.6,541.7C1310.8,543.5 1310.9,545.2 1311.1,547.0C1311.3,548.8 1311.5,550.5 1311.7,552.3C1311.9,554.1 1312.1,555.9 1312.3,557.7C1312.5,559.5 1312.5,562.1 1312.9,563.0C1313.4,563.9 1314.5,563.9 1315.0,563.0C1315.5,562.1 1315.4,559.5 1315.6,557.7C1315.8,555.9 1316.0,554.1 1316.2,552.3C1316.4,550.5 1316.6,548.9 1316.8,547.0C1317.0,545.1 1317.1,543.1 1317.2,541.2C1317.3,539.3 1317.4,537.4 1317.5,535.5C1317.6,533.6 1317.8,531.6 1317.9,529.7C1318.0,527.8 1318.2,525.8 1318.3,523.9C1318.4,522.0 1318.5,520.0 1318.7,518.1C1318.9,516.2 1319.1,514.2 1319.2,512.3C1319.3,510.4 1319.5,508.4 1319.6,506.5C1319.7,504.6 1319.9,502.6 1320.0,500.7C1320.1,498.8 1320.3,497.2 1320.4,495.4C1320.5,493.6 1320.6,491.8 1320.7,490.0C1320.8,488.2 1321.0,486.5 1321.1,484.7C1321.2,482.9 1321.3,481.1 1321.4,479.3C1321.5,477.5 1321.6,475.7 1321.8,474.0C1322.0,472.3 1322.4,470.8 1322.7,469.2C1323.0,467.6 1323.3,466.1 1323.6,464.5C1323.9,462.9 1324.2,461.3 1324.5,459.7C1324.8,458.1 1325.1,456.6 1325.4,455.0C1325.7,453.4 1326.0,451.8 1326.3,450.2C1326.6,448.6 1326.5,447.3 1327.2,445.5C1327.9,443.7 1329.2,439.3 1330.2,439.3C1331.2,439.3 1332.8,443.6 1333.4,445.5C1334.1,447.4 1333.9,449.1 1334.1,450.9C1334.3,452.7 1334.6,454.4 1334.8,456.2C1335.0,458.0 1335.2,459.7 1335.4,461.5C1335.6,463.3 1335.9,465.0 1336.1,466.9C1336.3,468.8 1336.4,470.7 1336.6,472.6C1336.8,474.5 1336.9,476.4 1337.1,478.3C1337.3,480.2 1337.5,482.1 1337.7,484.0C1337.9,485.9 1338.0,487.8 1338.2,489.7C1338.4,491.6 1338.5,493.6 1338.7,495.4C1338.9,497.2 1339.2,498.9 1339.4,500.7C1339.6,502.5 1339.9,504.3 1340.1,506.1C1340.3,507.9 1340.5,509.6 1340.7,511.4C1340.9,513.2 1340.7,515.4 1341.4,516.7C1342.4,518.0 1345.4,518.8 1346.7,519.4C1348.0,520.0 1348.7,519.3 1349.4,520.3C1350.1,521.3 1350.3,523.8 1350.8,525.6C1351.2,527.4 1351.7,529.2 1352.1,531.0C1352.5,532.8 1352.9,534.5 1353.3,536.3C1353.7,538.1 1354.1,539.9 1354.5,541.7C1354.9,543.5 1355.3,545.1 1355.7,547.0C1356.1,548.9 1356.6,550.9 1357.0,552.8C1357.4,554.7 1357.6,557.3 1358.3,558.6C1359.0,559.9 1360.1,561.4 1361.0,560.4C1361.9,559.4 1363.1,554.6 1363.7,552.4C1364.3,550.2 1364.3,548.8 1364.6,547.0C1364.9,545.2 1365.1,543.5 1365.4,541.7C1365.7,539.9 1365.8,537.9 1366.3,536.3C1366.8,534.7 1367.8,532.0 1368.5,531.9C1369.2,531.8 1370.0,533.5 1370.8,535.4C1371.6,537.3 1372.2,541.8 1373.1,543.4C1374.0,545.0 1375.4,545.6 1376.1,545.2C1376.8,544.8 1377.0,542.3 1377.4,540.8C1377.9,539.3 1378.5,537.9 1378.8,536.3C1379.1,534.7 1379.0,533.0 1379.2,531.4C1379.4,529.8 1379.6,528.1 1379.7,526.5C1379.8,524.9 1379.9,523.2 1380.1,521.6C1380.2,520.0 1380.4,518.5 1380.6,516.7C1380.8,514.9 1381.0,512.8 1381.2,510.8C1381.4,508.8 1381.6,506.8 1381.8,504.8C1382.0,502.8 1382.2,500.8 1382.4,498.9C1382.6,497.0 1382.6,495.4 1382.7,493.6C1382.8,491.8 1383.0,490.1 1383.1,488.3C1383.2,486.5 1383.2,484.9 1383.4,483.0C1383.6,481.1 1384.0,479.1 1384.3,477.1C1384.6,475.1 1384.9,473.2 1385.2,471.2C1385.5,469.2 1385.8,467.1 1386.1,465.3C1386.4,463.5 1386.8,461.9 1387.2,460.2C1387.6,458.5 1387.2,456.8 1388.2,455.1C1389.3,453.5 1392.1,450.7 1393.6,450.3C1395.1,449.9 1395.6,451.8 1397.0,453.0C1398.4,454.2 1400.3,457.0 1401.8,457.8C1403.3,458.6 1404.7,458.4 1405.9,457.8C1407.2,457.2 1408.5,455.9 1409.3,454.4C1410.1,452.9 1410.2,450.7 1410.7,448.9C1411.2,447.1 1411.5,445.2 1412.0,443.5C1412.5,441.8 1413.1,440.4 1413.7,438.8C1414.3,437.2 1414.6,435.9 1415.4,434.0C1416.2,432.1 1417.4,428.7 1418.8,427.2C1420.2,425.7 1422.1,425.8 1423.6,425.1C1425.1,424.4 1426.5,424.8 1427.7,423.1C1429.0,421.4 1430.0,417.5 1431.1,414.9C1432.2,412.3 1433.4,409.0 1434.5,407.4C1435.6,405.8 1436.9,406.6 1437.9,405.4C1438.9,404.1 1439.3,400.8 1440.6,399.9C1441.8,399.0 1444.3,399.7 1445.4,399.9C1446.5,400.1 1446.7,401.3 1447.4,401.3C1448.1,401.3 1448.8,399.4 1449.5,399.9C1450.2,400.3 1451.0,402.4 1451.5,404.0C1452.0,405.6 1452.2,407.9 1452.5,409.8C1452.8,411.7 1453.1,414.2 1453.5,415.6C1453.9,417.0 1454.0,417.9 1454.9,418.3C1455.8,418.8 1458.2,419.0 1459.0,418.3C1459.5,417.6 1459.3,415.4 1459.5,414.0C1459.7,412.6 1459.8,411.1 1459.9,409.7C1460.1,408.3 1460.0,406.9 1460.4,405.4C1460.8,403.9 1461.7,401.7 1462.4,400.6C1463.1,399.5 1463.7,398.2 1464.4,398.6C1465.1,399.0 1465.9,400.9 1466.5,402.7C1467.1,404.5 1467.3,408.1 1467.8,409.5C1468.2,410.9 1468.6,411.0 1469.2,410.8C1469.8,410.6 1470.8,409.3 1471.3,408.1C1471.8,406.9 1472.0,405.0 1472.3,403.4C1472.6,401.8 1472.8,400.3 1473.3,398.6C1473.8,396.9 1474.5,394.6 1475.3,393.1C1476.1,391.6 1477.4,389.9 1478.3,389.7C1479.2,389.5 1480.3,390.6 1480.8,391.8C1481.3,393.0 1481.3,395.2 1481.5,396.8C1481.7,398.4 1481.9,400.1 1482.1,401.7C1482.3,403.3 1482.1,405.9 1482.8,406.7C1483.5,407.5 1485.3,407.8 1486.2,406.7C1487.1,405.6 1487.4,400.8 1488.3,399.9C1489.2,399.0 1490.3,400.3 1491.7,401.3C1493.1,402.3 1495.4,404.6 1496.4,406.1C1497.4,407.6 1497.3,409.0 1497.8,410.5C1498.3,412.0 1498.8,413.5 1499.2,414.9C1499.6,416.3 1499.7,417.6 1499.9,419.0C1500.1,420.4 1500.3,421.7 1500.5,423.1C1500.7,424.5 1500.7,426.1 1501.2,427.2C1501.7,428.3 1502.5,429.6 1503.3,429.9C1504.1,430.2 1505.4,430.0 1506.0,429.2C1506.6,428.4 1506.7,426.3 1507.0,424.8C1507.3,423.3 1507.7,421.9 1508.0,420.4C1508.3,418.9 1508.7,417.2 1509.0,415.6C1509.3,414.0 1509.3,412.6 1510.1,410.8C1510.8,409.0 1512.5,406.3 1513.5,404.7C1514.5,403.1 1515.0,402.0 1516.2,401.3C1517.5,400.6 1519.8,401.5 1521.0,400.6C1522.2,399.7 1522.5,397.6 1523.7,395.8C1525.0,394.0 1527.1,390.0 1528.5,389.7C1529.9,389.4 1530.8,392.2 1531.9,393.8C1533.0,395.4 1534.0,398.3 1535.3,399.2C1536.5,400.1 1538.2,399.9 1539.4,399.2C1540.7,398.5 1541.5,395.9 1542.8,395.2C1544.1,394.5 1546.4,394.4 1547.5,395.2C1548.6,396.0 1549.1,398.4 1549.6,399.9C1550.1,401.4 1550.1,402.6 1550.3,404.0C1550.5,405.4 1550.7,406.7 1550.9,408.1C1551.1,409.5 1551.1,410.7 1551.6,412.2C1552.1,413.7 1553.0,416.4 1553.7,417.0C1554.4,417.6 1555.0,416.9 1555.7,415.6C1556.4,414.4 1557.2,411.4 1557.7,409.5C1558.2,407.6 1558.5,405.9 1558.8,404.1C1559.1,402.3 1559.3,400.3 1559.8,398.6C1560.2,396.9 1560.9,395.4 1561.5,393.8C1562.1,392.2 1562.5,390.9 1563.2,389.0C1563.9,387.1 1565.0,383.7 1565.9,382.2C1566.8,380.7 1567.3,380.6 1568.6,380.2C1569.8,379.8 1571.6,379.6 1573.4,379.5C1575.2,379.4 1578.0,380.1 1579.5,379.5C1581.0,378.9 1581.5,376.1 1582.3,376.1C1583.1,376.1 1583.4,377.7 1584.3,379.5C1585.2,381.3 1586.6,385.6 1587.7,387.0C1588.8,388.4 1590.1,387.8 1591.1,387.7C1592.1,387.6 1593.0,385.4 1593.8,386.3C1594.6,387.2 1595.4,391.2 1595.9,393.1C1596.4,395.0 1596.6,396.3 1596.9,397.9C1597.2,399.5 1597.6,401.0 1597.9,402.7C1598.2,404.4 1598.4,406.1 1598.6,407.8C1598.8,409.5 1598.6,412.0 1599.3,412.9C1600.1,413.8 1602.7,413.6 1603.4,412.9C1603.8,412.2 1603.7,410.1 1603.8,408.6C1603.9,407.2 1604.1,405.6 1604.3,404.2C1604.5,402.8 1604.3,401.3 1604.7,399.9C1605.1,398.5 1606.0,396.9 1606.8,395.8C1607.6,394.7 1609.0,393.6 1609.5,393.1"/>
<path fill="none" stroke="#515151" stroke-width="3.7" stroke-linejoin="round" stroke-linecap="butt" d="M92.6,791.0C93.4,791.0 95.7,791.0 97.2,791.0C98.7,791.0 100.3,791.0 101.8,791.0C103.3,791.0 104.9,791.0 106.4,791.0C107.9,791.0 109.5,790.6 111.0,791.0C112.5,791.4 114.1,792.7 115.6,793.5C117.1,794.3 118.5,795.6 120.2,796.0C122.0,796.4 124.1,796.0 126.1,796.0C128.1,796.0 130.3,795.6 132.0,796.0C133.7,796.4 135.0,797.5 136.5,798.2C138.0,799.0 139.4,799.8 140.9,800.5C142.4,801.2 143.2,801.9 145.4,802.7C147.6,803.5 151.4,804.9 153.8,805.3C156.2,805.7 157.8,805.3 159.7,805.3C161.6,805.3 163.6,805.3 165.5,805.3C167.4,805.3 169.7,805.8 171.4,805.3C173.2,804.8 174.5,803.1 176.0,802.0C177.5,800.9 178.9,799.2 180.6,798.6C182.3,798.0 184.3,798.4 186.2,798.3C188.0,798.2 189.8,798.1 191.7,798.0C193.5,797.9 195.5,797.9 197.3,797.7C199.1,797.6 200.6,797.3 202.3,797.1C204.0,796.9 205.7,796.8 207.4,796.6C209.1,796.4 210.6,796.6 212.4,796.0C214.2,795.4 216.8,792.7 218.3,792.7C219.8,792.7 220.3,795.5 221.6,796.0C222.8,796.5 224.4,796.0 225.8,796.0C227.2,796.0 228.6,796.0 230.0,796.0C231.4,796.0 232.9,796.4 234.2,796.0C235.5,795.6 236.5,794.3 237.6,793.5C238.7,792.7 239.8,791.8 240.9,791.0C242.0,790.2 243.0,789.5 244.3,788.5C245.6,787.5 247.4,786.2 248.9,785.1C250.4,784.0 252.0,782.3 253.5,781.8C255.0,781.3 256.6,782.1 258.1,782.2C259.6,782.3 261.2,782.5 262.7,782.6C264.2,782.8 265.8,783.0 267.3,783.1C268.8,783.2 270.4,783.0 271.9,783.5C273.4,784.0 274.8,785.0 276.3,785.8C277.8,786.6 279.2,787.3 280.7,788.1C282.2,788.9 283.6,789.6 285.1,790.4C286.6,791.2 288.2,791.7 289.5,792.7C290.8,793.7 291.9,795.1 293.1,796.3C294.3,797.5 295.6,798.8 296.8,800.0C298.0,801.2 298.9,803.0 300.4,803.6C301.9,804.2 304.1,803.6 306.0,803.6C307.9,803.6 309.7,803.6 311.6,803.6C313.5,803.6 315.7,802.4 317.2,803.6C318.7,804.9 319.1,809.7 320.5,811.1C321.9,812.5 323.8,811.6 325.5,811.9C327.2,812.2 328.9,812.5 330.6,812.8C332.3,813.1 334.1,812.8 335.6,813.6C337.1,814.4 338.4,816.4 339.8,817.8C341.2,819.2 342.9,820.6 344.0,822.0C345.1,823.4 345.7,824.8 346.5,826.2C347.3,827.6 348.4,828.9 349.0,830.4C349.6,831.9 349.8,833.5 350.2,835.1C350.6,836.7 351.0,838.2 351.4,839.8C351.8,841.4 352.1,842.9 352.5,844.5C352.9,846.1 353.3,847.6 353.7,849.2C354.1,850.8 354.5,852.3 354.9,853.9C355.3,855.5 355.5,857.2 355.9,858.9C356.2,860.6 356.6,862.3 357.0,864.0C357.4,865.7 357.8,867.3 358.1,869.0C358.5,870.7 358.6,872.3 359.1,874.0C359.6,875.7 360.5,877.3 361.2,879.0C361.9,880.7 362.5,882.4 363.3,884.0C364.1,885.6 365.1,887.1 366.0,888.6C366.9,890.1 367.9,891.6 368.8,893.1C369.7,894.6 370.6,896.2 371.5,897.7C372.4,899.2 373.6,900.6 374.2,902.3C374.8,904.0 374.7,906.0 375.0,907.9C375.3,909.8 375.5,911.5 375.8,913.4C376.1,915.2 376.4,917.1 376.7,919.0C377.0,920.9 377.2,922.6 377.5,924.5C377.8,926.4 378.1,928.2 378.3,930.1C378.5,932.0 378.7,934.1 378.9,936.1C379.1,938.1 379.3,940.0 379.5,942.0C379.7,944.0 379.9,946.0 380.1,948.0C380.3,950.0 380.5,951.9 380.7,953.9C380.9,955.9 381.1,957.9 381.3,959.9C381.5,961.9 381.7,963.8 381.9,965.8C382.1,967.8 382.3,969.8 382.5,971.8C382.7,973.8 382.8,975.8 382.9,977.8C383.0,979.8 383.2,981.7 383.3,983.7C383.4,985.7 383.6,987.7 383.7,989.7C383.8,991.7 384.0,993.7 384.1,995.7C384.2,997.7 384.4,999.7 384.5,1001.7C384.6,1003.7 384.8,1005.6 384.9,1007.6C385.0,1009.6 385.2,1011.7 385.3,1013.6C385.4,1015.5 385.5,1017.4 385.6,1019.2C385.7,1021.1 385.7,1022.9 385.8,1024.7C385.9,1026.5 386.0,1028.4 386.1,1030.3C386.2,1032.2 386.2,1034.1 386.3,1035.9C386.4,1037.8 386.5,1039.6 386.6,1041.4C386.7,1043.2 386.7,1045.2 386.8,1047.0C386.9,1048.8 387.0,1050.7 387.1,1052.5C387.2,1054.3 387.2,1056.2 387.3,1058.1C387.4,1060.0 387.5,1061.8 387.6,1063.7C387.7,1065.6 387.7,1067.4 387.8,1069.2C387.9,1071.0 388.0,1072.9 388.1,1074.8C388.2,1076.7 388.2,1078.7 388.3,1080.6C388.4,1082.5 388.5,1084.5 388.6,1086.4C388.7,1088.3 388.7,1090.3 388.8,1092.2C388.9,1094.1 388.9,1096.1 389.0,1098.0C389.1,1099.9 389.2,1101.9 389.3,1103.8C389.4,1105.7 389.4,1107.7 389.5,1109.6C389.6,1111.5 389.6,1113.5 389.7,1115.4C389.8,1117.3 389.9,1119.3 390.0,1121.2C390.1,1123.1 390.1,1125.1 390.2,1127.0C390.3,1128.9 390.3,1130.9 390.4,1132.8C390.5,1134.7 390.6,1136.7 390.7,1138.6C390.8,1140.5 390.8,1142.5 390.9,1144.4C391.0,1146.3 391.1,1148.2 391.2,1150.0C391.3,1151.8 391.4,1153.7 391.5,1155.5C391.6,1157.3 391.6,1159.2 391.7,1161.1C391.8,1162.9 391.9,1164.8 392.0,1166.6C392.1,1168.4 392.2,1170.3 392.3,1172.2C392.4,1174.1 392.5,1176.0 392.6,1177.8C392.7,1179.6 392.8,1181.4 392.9,1183.3C393.0,1185.2 393.0,1187.1 393.1,1188.9C393.2,1190.8 393.3,1192.6 393.4,1194.4C393.5,1196.2 393.6,1198.1 393.7,1200.0C393.8,1201.9 393.9,1203.9 394.0,1205.9C394.1,1207.9 394.3,1209.8 394.4,1211.8C394.5,1213.8 394.6,1215.8 394.7,1217.8C394.8,1219.8 394.9,1221.7 395.0,1223.7C395.1,1225.7 395.3,1227.6 395.4,1229.6C395.5,1231.6 395.6,1233.6 395.7,1235.6C395.8,1237.6 396.0,1239.5 396.1,1241.5C396.2,1243.5 396.2,1245.5 396.4,1247.4C396.5,1249.3 396.8,1251.2 397.0,1253.0C397.2,1254.8 397.3,1256.7 397.5,1258.5C397.7,1260.3 397.9,1262.2 398.1,1264.1C398.3,1265.9 398.4,1267.8 398.6,1269.6C398.8,1271.4 398.8,1273.8 399.2,1275.2C399.6,1276.6 400.6,1278.2 401.2,1278.0C401.8,1277.8 402.4,1275.2 403.0,1273.8C403.6,1272.4 404.1,1270.9 404.8,1269.6C405.5,1268.3 406.3,1267.1 407.1,1265.9C407.9,1264.7 408.6,1263.4 409.4,1262.2C410.2,1261.0 410.4,1258.0 411.7,1258.5C413.0,1259.0 415.7,1264.0 417.3,1265.4C418.9,1266.8 420.7,1267.4 421.5,1266.8C422.2,1266.2 422.0,1263.6 422.2,1262.0C422.4,1260.4 422.7,1258.7 422.9,1257.1C423.1,1255.5 423.4,1253.8 423.6,1252.2C423.8,1250.6 424.1,1249.1 424.3,1247.4C424.5,1245.7 424.5,1243.7 424.6,1241.8C424.7,1239.9 424.8,1238.1 424.9,1236.3C425.0,1234.5 425.0,1232.6 425.1,1230.7C425.2,1228.8 425.3,1226.9 425.4,1225.1C425.5,1223.2 425.6,1221.4 425.7,1219.6C425.8,1217.8 425.9,1215.9 426.0,1214.0C426.1,1212.1 426.2,1210.3 426.3,1208.4C426.4,1206.5 426.4,1204.7 426.5,1202.8C426.6,1200.9 426.7,1199.1 426.8,1197.3C426.9,1195.5 427.0,1193.6 427.1,1191.7C427.2,1189.8 427.3,1187.8 427.4,1185.8C427.5,1183.8 427.7,1181.9 427.8,1179.9C427.9,1177.9 428.0,1176.0 428.1,1174.0C428.2,1172.0 428.4,1170.1 428.5,1168.1C428.6,1166.1 428.7,1164.1 428.8,1162.1C428.9,1160.1 429.0,1158.2 429.1,1156.2C429.2,1154.2 429.4,1152.3 429.5,1150.3C429.6,1148.3 429.7,1146.4 429.8,1144.4C429.9,1142.4 430.1,1140.4 430.2,1138.4C430.3,1136.4 430.5,1134.5 430.6,1132.5C430.7,1130.5 430.9,1128.5 431.0,1126.5C431.1,1124.5 431.3,1122.5 431.4,1120.5C431.5,1118.5 431.7,1116.5 431.8,1114.5C431.9,1112.5 432.1,1110.6 432.2,1108.6C432.3,1106.6 432.5,1104.6 432.6,1102.6C432.7,1100.6 432.9,1098.6 433.0,1096.6C433.1,1094.6 433.3,1092.7 433.4,1090.7C433.5,1088.7 433.7,1086.7 433.8,1084.7C433.9,1082.7 434.1,1080.8 434.2,1078.8C434.3,1076.8 434.5,1074.8 434.6,1072.8C434.7,1070.8 434.9,1068.9 435.0,1066.9C435.1,1064.9 435.2,1062.9 435.4,1060.9C435.5,1058.9 435.7,1057.0 435.9,1055.0C436.1,1053.0 436.2,1051.1 436.4,1049.1C436.6,1047.1 436.8,1045.2 437.0,1043.2C437.2,1041.2 437.3,1039.2 437.5,1037.2C437.7,1035.2 437.8,1033.3 438.0,1031.3C438.2,1029.3 438.4,1027.4 438.6,1025.4C438.8,1023.4 438.9,1021.5 439.1,1019.5C439.3,1017.5 439.4,1015.5 439.6,1013.6C439.8,1011.8 440.0,1010.1 440.2,1008.4C440.4,1006.7 440.6,1005.0 440.8,1003.3C441.0,1001.6 441.2,999.8 441.4,998.1C441.6,996.4 441.7,994.6 441.9,992.9C442.1,991.2 442.3,989.4 442.5,987.7C442.7,986.0 442.9,984.3 443.1,982.6C443.3,980.9 443.5,979.1 443.7,977.4C443.9,975.7 444.2,974.1 444.5,972.4C444.8,970.7 445.1,969.1 445.4,967.4C445.7,965.7 445.9,964.1 446.2,962.4C446.5,960.7 446.8,959.1 447.1,957.4C447.4,955.7 447.4,954.2 447.9,952.4C448.3,950.6 449.2,948.6 449.8,946.8C450.4,944.9 451.0,943.1 451.6,941.3C452.2,939.4 452.8,937.3 453.5,935.7C454.2,934.1 455.2,932.9 456.0,931.5C456.8,930.1 457.9,928.8 458.5,927.3C459.1,925.8 459.0,924.0 459.3,922.4C459.6,920.8 459.8,919.1 460.1,917.5C460.4,915.9 460.7,914.3 461.0,912.7C461.3,911.1 461.0,909.8 461.8,907.8C462.6,905.8 464.6,901.1 466.0,900.9C467.4,900.7 469.1,904.5 470.2,906.4C471.2,908.2 471.6,910.1 472.3,912.0C473.0,913.9 473.4,916.9 474.4,917.6C475.4,918.3 477.4,917.8 478.5,916.2C479.6,914.6 480.3,909.2 481.3,907.8C482.3,906.4 483.8,907.1 484.7,907.8C485.6,908.5 485.9,910.6 486.5,912.0C487.1,913.4 487.8,914.6 488.3,916.2C488.8,917.8 489.2,919.9 489.7,921.8C490.2,923.6 490.6,925.4 491.1,927.3C491.6,929.1 492.2,931.0 492.5,932.9C492.8,934.8 492.8,936.6 493.0,938.5C493.2,940.4 493.4,942.1 493.6,944.0C493.8,945.9 493.9,947.8 494.1,949.6C494.3,951.5 494.5,953.2 494.7,955.1C494.9,957.0 495.0,958.8 495.2,960.7C495.4,962.6 495.5,964.4 495.6,966.3C495.7,968.1 495.9,969.9 496.0,971.8C496.1,973.6 496.3,975.5 496.4,977.4C496.5,979.3 496.7,981.1 496.8,983.0C496.9,984.9 497.1,986.8 497.2,988.6C497.3,990.5 497.5,992.2 497.6,994.1C497.7,996.0 497.9,997.8 498.0,999.7C498.1,1001.6 498.2,1003.4 498.3,1005.3C498.4,1007.1 498.6,1008.9 498.7,1010.8C498.8,1012.6 498.9,1014.5 499.0,1016.4C499.1,1018.3 499.2,1020.1 499.3,1022.0C499.4,1023.9 499.6,1025.7 499.7,1027.5C499.8,1029.3 499.7,1032.2 500.0,1033.1C500.4,1034.0 501.8,1033.9 502.2,1033.1C502.5,1032.2 502.4,1029.7 502.5,1028.0C502.6,1026.3 502.7,1024.6 502.8,1022.9C502.9,1021.2 503.0,1019.5 503.1,1017.8C503.2,1016.1 503.4,1014.4 503.5,1012.7C503.6,1011.0 503.7,1009.3 503.8,1007.6C503.9,1005.9 503.8,1004.2 504.1,1002.5C504.4,1000.8 505.1,999.2 505.6,997.6C506.1,996.0 506.8,992.8 507.2,992.7C507.6,992.6 507.9,995.5 508.3,996.9C508.7,998.3 509.0,999.6 509.4,1001.0C509.8,1002.4 510.2,1003.6 510.5,1005.2C510.8,1006.8 511.0,1008.9 511.2,1010.8C511.4,1012.6 511.7,1014.4 511.9,1016.3C512.1,1018.1 512.4,1020.0 512.6,1021.9C512.8,1023.8 513.1,1025.7 513.3,1027.5C513.5,1029.3 513.8,1031.2 514.0,1033.0C514.2,1034.8 514.5,1036.8 514.7,1038.6C514.9,1040.4 515.1,1042.3 515.3,1044.1C515.5,1045.9 515.6,1047.7 515.8,1049.5C516.0,1051.3 516.2,1053.2 516.4,1055.0C516.6,1056.8 516.7,1058.6 516.9,1060.4C517.1,1062.2 517.0,1065.0 517.5,1065.9C518.0,1066.8 519.2,1066.8 519.7,1065.9C520.2,1065.0 520.1,1062.2 520.3,1060.4C520.5,1058.6 520.6,1056.8 520.8,1055.0C521.0,1053.2 521.2,1051.3 521.4,1049.5C521.6,1047.7 521.7,1045.9 521.9,1044.1C522.1,1042.3 522.3,1040.3 522.5,1038.6C522.7,1036.9 523.0,1035.3 523.3,1033.7C523.6,1032.1 523.8,1030.4 524.1,1028.8C524.4,1027.2 524.7,1025.6 525.0,1024.0C525.3,1022.4 525.2,1020.4 525.8,1019.1C526.4,1017.8 527.7,1015.5 528.6,1016.4C529.5,1017.3 530.8,1022.4 531.4,1024.7C532.0,1027.0 531.8,1028.5 532.0,1030.3C532.2,1032.1 532.3,1033.9 532.5,1035.8C532.7,1037.7 532.9,1039.6 533.1,1041.4C533.3,1043.2 533.4,1045.1 533.6,1046.9C533.8,1048.8 534.0,1050.6 534.2,1052.5C534.4,1054.4 534.5,1056.2 534.6,1058.1C534.7,1060.0 534.8,1061.8 534.9,1063.7C535.0,1065.6 535.1,1067.4 535.2,1069.2C535.3,1071.0 535.5,1072.9 535.6,1074.8C535.7,1076.7 535.9,1078.6 536.0,1080.4C536.1,1082.2 536.2,1084.1 536.3,1085.9C536.4,1087.8 536.5,1089.6 536.6,1091.5C536.7,1093.4 536.9,1095.2 537.0,1097.1C537.1,1099.0 537.2,1100.8 537.3,1102.7C537.4,1104.6 537.5,1106.4 537.6,1108.2C537.7,1110.0 537.8,1111.9 537.9,1113.8C538.0,1115.7 538.1,1117.6 538.2,1119.4C538.3,1121.2 538.5,1123.1 538.6,1124.9C538.7,1126.8 538.8,1128.6 538.9,1130.5C539.0,1132.4 539.1,1134.2 539.2,1136.1C539.3,1137.9 539.4,1139.8 539.5,1141.6C539.6,1143.4 539.7,1145.3 539.8,1147.2C539.9,1149.1 540.0,1151.1 540.1,1153.1C540.2,1155.1 540.4,1157.0 540.5,1159.0C540.6,1161.0 540.7,1162.9 540.8,1164.9C540.9,1166.9 541.0,1168.8 541.1,1170.8C541.2,1172.8 541.4,1174.8 541.5,1176.8C541.6,1178.8 541.7,1180.7 541.8,1182.7C541.9,1184.7 542.1,1186.6 542.2,1188.6C542.3,1190.6 542.4,1192.5 542.5,1194.5C542.6,1196.5 542.8,1198.4 542.9,1200.4C543.0,1202.4 543.2,1204.3 543.4,1206.3C543.5,1208.3 543.7,1210.2 543.8,1212.2C543.9,1214.2 544.1,1216.2 544.2,1218.2C544.3,1220.2 544.5,1222.1 544.6,1224.1C544.7,1226.1 544.9,1228.0 545.0,1230.0C545.1,1232.0 545.4,1233.9 545.5,1235.9C545.6,1237.9 545.8,1239.8 545.9,1241.8C546.0,1243.8 546.2,1245.8 546.4,1247.8C546.6,1249.8 546.7,1251.7 546.9,1253.7C547.1,1255.7 547.2,1257.7 547.4,1259.7C547.6,1261.7 547.8,1263.6 548.0,1265.6C548.2,1267.6 548.3,1269.6 548.5,1271.6C548.7,1273.6 548.8,1275.5 549.0,1277.5C549.2,1279.5 549.3,1281.7 549.5,1283.5C549.7,1285.3 550.0,1286.8 550.2,1288.4C550.4,1290.0 550.7,1291.6 550.9,1293.2C551.1,1294.8 551.4,1296.5 551.6,1298.1C551.8,1299.7 551.6,1301.0 552.3,1303.0C553.1,1305.0 554.9,1309.3 556.5,1310.0C558.1,1310.7 559.9,1308.4 562.0,1307.2C564.1,1306.0 567.5,1304.4 569.0,1303.0C570.5,1301.6 570.4,1300.2 571.1,1298.8C571.8,1297.4 572.7,1296.2 573.2,1294.7C573.7,1293.2 573.7,1291.4 573.9,1289.8C574.1,1288.2 574.3,1286.6 574.5,1285.0C574.7,1283.4 575.0,1281.7 575.2,1280.1C575.4,1278.5 575.7,1277.0 575.9,1275.2C576.1,1273.5 576.2,1271.4 576.3,1269.6C576.4,1267.8 576.6,1265.9 576.7,1264.1C576.8,1262.2 577.0,1260.4 577.1,1258.5C577.2,1256.6 577.4,1254.8 577.5,1252.9C577.6,1251.0 577.8,1249.2 577.9,1247.3C578.0,1245.4 578.2,1243.6 578.3,1241.8C578.4,1240.0 578.6,1238.1 578.7,1236.2C578.8,1234.3 579.0,1232.4 579.1,1230.6C579.2,1228.8 579.3,1226.9 579.4,1225.1C579.5,1223.2 579.7,1221.3 579.8,1219.5C579.9,1217.7 580.0,1215.8 580.1,1214.0C580.2,1212.2 580.4,1210.3 580.5,1208.4C580.6,1206.5 580.7,1204.7 580.8,1202.8C580.9,1200.9 581.0,1199.1 581.1,1197.3C581.2,1195.5 581.4,1193.6 581.5,1191.7C581.6,1189.8 581.8,1187.9 581.9,1186.1C582.0,1184.2 582.1,1182.4 582.2,1180.6C582.3,1178.8 582.4,1176.8 582.5,1175.0C582.6,1173.2 582.8,1171.3 582.9,1169.5C583.0,1167.7 583.1,1165.8 583.2,1163.9C583.3,1162.0 583.5,1160.2 583.6,1158.3C583.7,1156.4 583.8,1154.6 583.9,1152.8C584.0,1151.0 584.2,1149.1 584.3,1147.2C584.4,1145.3 584.6,1143.4 584.7,1141.6C584.8,1139.8 585.0,1137.9 585.1,1136.1C585.2,1134.2 585.4,1132.4 585.5,1130.5C585.6,1128.6 585.8,1126.8 585.9,1124.9C586.0,1123.0 586.2,1121.2 586.3,1119.3C586.4,1117.4 586.6,1115.6 586.7,1113.8C586.8,1112.0 587.0,1110.1 587.1,1108.2C587.2,1106.3 587.5,1104.4 587.6,1102.6C587.8,1100.8 587.9,1098.9 588.0,1097.1C588.1,1095.2 588.3,1093.4 588.5,1091.5C588.7,1089.6 588.9,1087.8 589.0,1085.9C589.1,1084.1 589.2,1082.2 589.4,1080.4C589.5,1078.6 589.7,1076.7 589.9,1074.8C590.1,1072.9 590.5,1071.0 590.7,1069.2C591.0,1067.4 591.1,1065.6 591.4,1063.7C591.6,1061.8 592.0,1060.0 592.2,1058.1C592.4,1056.2 592.5,1054.3 592.6,1052.5C592.7,1050.7 592.9,1048.8 593.0,1047.0C593.1,1045.2 593.3,1043.2 593.4,1041.4C593.5,1039.6 593.7,1037.8 593.8,1035.9C593.9,1034.1 593.8,1032.4 594.2,1030.3C594.6,1028.2 595.7,1023.8 596.1,1023.3C596.5,1022.8 596.5,1026.1 596.8,1027.5C597.0,1028.9 597.4,1030.2 597.6,1031.6C597.9,1033.0 598.1,1034.2 598.3,1035.8C598.5,1037.4 598.5,1039.5 598.6,1041.4C598.7,1043.3 598.8,1045.2 598.9,1047.0C599.0,1048.8 599.1,1050.7 599.2,1052.5C599.3,1054.3 599.4,1056.2 599.5,1058.1C599.6,1060.0 599.6,1061.8 599.7,1063.7C599.8,1065.6 599.9,1067.4 600.0,1069.2C600.1,1071.0 600.2,1072.9 600.3,1074.8C600.4,1076.7 600.5,1078.5 600.6,1080.4C600.7,1082.3 600.7,1084.2 600.8,1086.0C600.9,1087.8 600.9,1089.7 601.0,1091.5C601.1,1093.3 601.1,1095.2 601.2,1097.1C601.3,1098.9 601.4,1100.8 601.4,1102.6C601.4,1104.4 601.5,1106.3 601.5,1108.2C601.5,1110.1 601.6,1112.0 601.7,1113.8C601.8,1115.6 601.8,1117.4 601.9,1119.3C602.0,1121.2 602.0,1123.1 602.1,1124.9C602.2,1126.8 602.2,1128.6 602.3,1130.4C602.4,1132.2 602.4,1134.1 602.5,1136.0C602.6,1137.9 602.6,1139.8 602.7,1141.8C602.8,1143.8 602.8,1145.8 602.9,1147.7C603.0,1149.7 603.0,1151.5 603.1,1153.5C603.2,1155.5 603.2,1157.5 603.3,1159.4C603.4,1161.4 603.4,1163.2 603.5,1165.2C603.6,1167.2 603.6,1169.1 603.7,1171.1C603.8,1173.1 603.8,1175.0 603.9,1177.0C604.0,1179.0 604.0,1180.8 604.1,1182.8C604.2,1184.8 604.2,1186.8 604.3,1188.7C604.4,1190.7 604.4,1192.6 604.5,1194.5C604.6,1196.4 604.7,1198.2 604.8,1200.1C604.9,1201.9 604.9,1203.8 605.0,1205.6C605.1,1207.4 605.2,1209.3 605.3,1211.2C605.4,1213.1 605.5,1215.0 605.6,1216.8C605.7,1218.6 605.8,1220.4 605.9,1222.3C606.0,1224.2 606.1,1226.1 606.2,1227.9C606.3,1229.8 606.3,1231.6 606.4,1233.4C606.5,1235.2 606.6,1237.2 606.7,1239.0C606.8,1240.8 606.9,1242.5 607.0,1244.2C607.1,1245.9 607.2,1247.6 607.3,1249.3C607.4,1251.0 607.5,1252.8 607.6,1254.5C607.7,1256.2 607.9,1258.0 608.0,1259.7C608.1,1261.4 608.2,1263.2 608.3,1264.9C608.4,1266.6 608.5,1268.3 608.6,1270.0C608.7,1271.7 608.7,1273.5 608.9,1275.2C609.1,1276.9 609.6,1278.5 609.9,1280.1C610.2,1281.7 610.1,1284.1 610.9,1284.9C611.7,1285.7 613.4,1286.1 614.5,1284.9C615.6,1283.8 617.1,1280.1 617.8,1278.0C618.5,1275.9 618.3,1274.3 618.6,1272.4C618.9,1270.5 619.2,1268.7 619.5,1266.8C619.8,1264.9 620.1,1263.1 620.4,1261.3C620.7,1259.5 621.0,1257.5 621.2,1255.7C621.4,1253.9 621.5,1252.4 621.6,1250.7C621.8,1249.0 622.0,1247.4 622.1,1245.7C622.2,1244.0 622.4,1242.4 622.5,1240.7C622.6,1239.0 622.9,1237.4 623.0,1235.7C623.1,1234.0 623.3,1232.5 623.4,1230.7C623.5,1228.9 623.7,1226.9 623.8,1225.1C623.9,1223.2 624.1,1221.4 624.2,1219.6C624.3,1217.8 624.5,1215.9 624.6,1214.0C624.7,1212.1 624.9,1210.3 625.0,1208.4C625.1,1206.5 625.3,1204.7 625.4,1202.8C625.5,1200.9 625.7,1199.1 625.8,1197.3C625.9,1195.5 626.1,1193.5 626.2,1191.7C626.4,1189.9 626.6,1188.3 626.7,1186.6C626.9,1184.9 627.0,1183.2 627.1,1181.5C627.2,1179.8 627.4,1178.1 627.6,1176.4C627.8,1174.7 628.0,1173.0 628.1,1171.3C628.2,1169.6 628.4,1167.9 628.5,1166.2C628.6,1164.5 628.7,1162.9 629.0,1161.1C629.3,1159.3 629.9,1157.4 630.4,1155.5C630.9,1153.6 631.1,1151.8 631.7,1149.9C632.3,1148.0 633.1,1146.2 633.8,1144.3C634.5,1142.4 635.4,1140.5 635.9,1138.8C636.4,1137.1 636.5,1135.8 636.8,1134.2C637.1,1132.7 637.5,1131.0 637.8,1129.5C638.1,1128.0 638.5,1126.6 638.7,1124.9C639.0,1123.2 639.1,1121.2 639.3,1119.3C639.5,1117.4 639.6,1115.6 639.8,1113.8C640.0,1112.0 640.2,1110.0 640.4,1108.2C640.6,1106.4 640.7,1104.6 640.9,1102.7C641.1,1100.8 641.3,1098.9 641.5,1097.1C641.7,1095.3 641.9,1093.8 642.1,1092.1C642.3,1090.4 642.4,1088.8 642.6,1087.1C642.8,1085.4 643.0,1083.7 643.2,1082.0C643.4,1080.3 643.5,1078.7 643.7,1077.0C643.9,1075.3 643.7,1074.2 644.3,1072.0C644.9,1069.8 646.2,1063.7 647.1,1063.7C648.0,1063.7 649.2,1069.8 649.8,1072.0C650.3,1074.2 650.2,1075.3 650.4,1077.0C650.6,1078.7 650.7,1080.3 650.9,1082.0C651.1,1083.7 651.3,1085.4 651.5,1087.1C651.7,1088.8 651.8,1090.4 652.0,1092.1C652.2,1093.8 652.4,1095.3 652.6,1097.1C652.8,1098.9 653.0,1100.8 653.2,1102.7C653.4,1104.6 653.6,1106.4 653.8,1108.2C654.0,1110.0 654.2,1112.0 654.4,1113.8C654.6,1115.6 654.8,1117.4 655.0,1119.3C655.2,1121.2 655.4,1123.1 655.6,1124.9C655.8,1126.8 656.0,1128.6 656.2,1130.4C656.4,1132.2 656.6,1134.1 656.8,1136.0C657.0,1137.9 657.1,1139.7 657.3,1141.6C657.5,1143.5 657.6,1145.3 657.8,1147.2C658.0,1149.1 658.2,1150.9 658.4,1152.7C658.6,1154.5 658.7,1156.4 658.9,1158.3C659.1,1160.2 659.2,1162.1 659.4,1163.9C659.6,1165.8 659.8,1167.6 660.0,1169.4C660.2,1171.2 660.3,1173.1 660.5,1175.0C660.7,1176.9 660.8,1178.7 661.0,1180.6C661.2,1182.5 661.4,1184.3 661.5,1186.2C661.6,1188.1 661.8,1189.9 661.9,1191.7C662.0,1193.5 662.2,1195.4 662.4,1197.3C662.5,1199.2 662.7,1201.1 662.8,1202.9C662.9,1204.8 663.1,1206.6 663.2,1208.4C663.4,1210.2 663.5,1212.1 663.7,1214.0C663.9,1215.9 664.3,1217.8 664.6,1219.6C664.9,1221.4 665.3,1223.2 665.6,1225.1C665.9,1226.9 666.0,1228.8 666.5,1230.7C667.0,1232.7 668.0,1235.8 668.8,1236.8C669.6,1237.8 670.9,1237.6 671.5,1236.8C672.1,1236.0 672.1,1233.6 672.4,1232.0C672.7,1230.4 673.1,1228.7 673.4,1227.1C673.7,1225.5 674.1,1224.0 674.3,1222.3C674.5,1220.6 674.6,1218.8 674.7,1217.1C674.8,1215.4 674.9,1213.7 675.0,1212.0C675.1,1210.3 675.3,1208.5 675.4,1206.8C675.5,1205.1 675.6,1203.3 675.7,1201.6C675.8,1199.9 676.0,1198.1 676.1,1196.4C676.2,1194.7 676.3,1193.0 676.4,1191.3C676.5,1189.6 676.7,1187.9 676.8,1186.1C676.9,1184.3 677.0,1182.3 677.1,1180.5C677.2,1178.7 677.3,1176.8 677.4,1175.0C677.5,1173.2 677.6,1171.3 677.7,1169.4C677.8,1167.5 677.9,1165.7 678.0,1163.8C678.1,1161.9 678.1,1160.1 678.2,1158.3C678.3,1156.5 678.4,1154.5 678.5,1152.7C678.6,1150.9 678.7,1149.1 678.8,1147.2C678.9,1145.3 679.0,1143.5 679.1,1141.6C679.2,1139.7 679.2,1137.8 679.3,1136.0C679.4,1134.2 679.4,1132.3 679.5,1130.5C679.6,1128.7 679.7,1126.8 679.7,1124.9C679.8,1123.0 679.8,1121.2 679.8,1119.3C679.8,1117.4 679.9,1115.5 680.0,1113.7C680.1,1111.9 680.1,1110.1 680.2,1108.2C680.3,1106.3 680.3,1104.5 680.4,1102.6C680.5,1100.7 680.5,1098.8 680.6,1097.0C680.7,1095.2 680.8,1093.3 680.9,1091.5C681.0,1089.7 681.0,1087.8 681.1,1085.9C681.2,1084.0 681.3,1082.2 681.4,1080.3C681.5,1078.4 681.5,1076.6 681.6,1074.8C681.7,1073.0 681.8,1071.0 681.9,1069.2C682.0,1067.4 682.0,1065.6 682.1,1063.7C682.2,1061.8 682.3,1060.0 682.4,1058.1C682.5,1056.2 682.6,1054.3 682.8,1052.5C682.9,1050.7 683.1,1048.8 683.3,1047.0C683.4,1045.2 683.6,1043.2 683.7,1041.4C683.9,1039.6 684.1,1037.8 684.2,1035.9C684.4,1034.1 684.4,1032.1 684.6,1030.3C684.8,1028.5 685.1,1026.8 685.3,1025.1C685.5,1023.3 685.8,1021.5 686.0,1019.8C686.2,1018.0 686.5,1016.3 686.7,1014.6C686.9,1012.9 686.8,1011.4 687.4,1009.4C688.0,1007.4 689.2,1002.7 690.2,1002.5C691.2,1002.3 692.8,1006.3 693.5,1008.0C694.2,1009.7 694.3,1011.1 694.7,1012.6C695.1,1014.1 695.5,1015.8 695.9,1017.3C696.3,1018.8 696.8,1020.3 697.1,1021.9C697.4,1023.5 697.6,1025.2 697.9,1026.9C698.2,1028.6 698.5,1030.2 698.8,1031.9C699.1,1033.6 699.3,1035.3 699.6,1037.0C699.9,1038.7 700.2,1040.3 700.5,1042.0C700.8,1043.7 701.0,1045.3 701.3,1047.0C701.5,1048.7 701.8,1050.3 702.0,1052.0C702.2,1053.7 702.5,1055.3 702.7,1057.0C702.9,1058.7 703.1,1060.3 703.3,1062.0C703.5,1063.7 703.8,1065.3 704.0,1067.0C704.2,1068.7 704.5,1070.3 704.7,1072.0C705.0,1073.7 705.2,1075.3 705.5,1076.9C705.8,1078.5 706.0,1080.2 706.2,1081.8C706.5,1083.4 706.8,1085.0 707.0,1086.6C707.2,1088.2 707.0,1090.7 707.7,1091.5C708.4,1092.3 710.4,1092.3 711.1,1091.5C711.8,1090.7 711.7,1088.5 712.0,1086.9C712.3,1085.4 712.6,1083.8 712.9,1082.2C713.2,1080.7 713.2,1079.3 713.8,1077.6C714.4,1075.9 715.7,1072.2 716.6,1072.0C717.5,1071.8 718.2,1076.2 719.4,1076.2C720.6,1076.2 722.8,1073.5 723.6,1072.0C724.4,1070.5 724.1,1068.7 724.4,1067.0C724.7,1065.3 725.0,1063.7 725.3,1062.0C725.6,1060.3 725.8,1058.7 726.1,1057.0C726.4,1055.3 726.7,1053.7 727.0,1052.0C727.3,1050.3 727.5,1048.8 727.8,1047.0C728.1,1045.2 728.3,1043.3 728.6,1041.4C728.9,1039.5 729.1,1037.7 729.4,1035.8C729.7,1033.9 730.0,1032.1 730.3,1030.3C730.6,1028.5 730.8,1026.6 731.1,1024.7C731.4,1022.8 731.6,1020.9 731.9,1019.1C732.2,1017.3 732.4,1015.8 732.7,1014.1C733.0,1012.4 733.3,1010.8 733.6,1009.1C733.9,1007.4 734.1,1005.8 734.4,1004.1C734.7,1002.4 735.0,1000.8 735.3,999.1C735.6,997.4 735.8,995.8 736.1,994.1C736.4,992.4 736.6,990.8 736.9,989.1C737.2,987.4 737.5,985.8 737.8,984.1C738.1,982.4 738.3,980.8 738.6,979.1C738.9,977.4 739.2,975.8 739.5,974.1C739.8,972.4 740.0,970.9 740.3,969.1C740.6,967.3 740.9,965.4 741.3,963.5C741.6,961.6 742.0,959.9 742.4,958.0C742.8,956.1 743.1,954.3 743.5,952.4C743.9,950.5 744.1,948.6 744.5,946.8C744.9,945.0 745.4,943.4 745.9,941.7C746.4,940.0 746.8,938.3 747.2,936.6C747.7,934.9 747.7,933.5 748.6,931.5C749.5,929.5 751.5,925.9 752.8,924.5C754.1,923.1 755.3,922.2 756.4,923.1C757.5,924.0 758.6,928.0 759.2,930.1C759.8,932.2 759.6,933.9 759.8,935.7C760.0,937.6 760.1,939.4 760.3,941.2C760.5,943.1 760.7,944.9 760.9,946.8C761.1,948.6 761.2,950.4 761.4,952.3C761.6,954.1 761.9,956.0 762.0,957.9C762.1,959.8 762.2,961.6 762.3,963.5C762.4,965.4 762.5,967.1 762.6,969.0C762.7,970.9 762.7,972.7 762.8,974.6C762.9,976.5 763.0,978.3 763.1,980.2C763.2,982.1 763.3,983.9 763.4,985.8C763.5,987.6 763.6,989.4 763.7,991.3C763.8,993.1 763.9,995.0 764.0,996.9C764.1,998.8 764.1,1000.6 764.2,1002.5C764.3,1004.4 764.4,1006.1 764.5,1008.0C764.6,1009.9 764.7,1011.7 764.8,1013.6C764.9,1015.5 765.0,1017.4 765.0,1019.2C765.0,1021.1 765.1,1022.9 765.1,1024.7C765.1,1026.5 765.2,1028.4 765.3,1030.3C765.4,1032.2 765.4,1034.1 765.5,1035.9C765.6,1037.8 765.7,1039.6 765.7,1041.4C765.8,1043.2 765.8,1045.2 765.8,1047.0C765.8,1048.8 765.9,1050.7 766.0,1052.5C766.1,1054.3 766.1,1056.2 766.2,1058.1C766.3,1060.0 766.4,1061.8 766.4,1063.7C766.4,1065.6 766.5,1067.4 766.5,1069.2C766.5,1071.0 766.6,1072.9 766.7,1074.8C766.8,1076.7 766.8,1078.6 766.9,1080.4C767.0,1082.2 767.0,1084.1 767.1,1085.9C767.2,1087.8 767.3,1089.6 767.4,1091.5C767.5,1093.4 767.5,1095.2 767.6,1097.1C767.7,1099.0 767.7,1100.8 767.8,1102.7C767.9,1104.6 767.9,1106.4 768.0,1108.2C768.1,1110.0 768.1,1111.9 768.2,1113.8C768.3,1115.7 768.4,1117.6 768.5,1119.4C768.6,1121.2 768.6,1123.1 768.7,1124.9C768.8,1126.8 768.8,1128.6 768.9,1130.5C769.0,1132.4 769.0,1134.2 769.1,1136.1C769.2,1137.9 769.2,1139.8 769.3,1141.6C769.4,1143.4 769.4,1145.3 769.5,1147.2C769.6,1149.1 769.6,1150.9 769.7,1152.7C769.8,1154.5 769.8,1156.4 769.9,1158.3C770.0,1160.2 770.0,1162.1 770.1,1163.9C770.2,1165.8 770.2,1167.6 770.3,1169.4C770.4,1171.2 770.4,1173.2 770.5,1175.0C770.6,1176.8 770.6,1178.7 770.7,1180.5C770.8,1182.3 770.8,1184.4 770.9,1186.1C771.0,1187.8 771.2,1189.2 771.4,1190.7C771.5,1192.2 771.6,1193.9 771.8,1195.4C771.9,1197.0 772.1,1200.0 772.3,1200.0C772.5,1200.0 772.6,1197.0 772.8,1195.4C772.9,1193.9 773.1,1192.2 773.2,1190.7C773.4,1189.2 773.6,1187.8 773.7,1186.1C773.8,1184.4 773.8,1182.3 773.9,1180.5C774.0,1178.7 774.1,1176.8 774.2,1175.0C774.3,1173.2 774.3,1171.3 774.4,1169.4C774.5,1167.5 774.6,1165.7 774.7,1163.8C774.8,1161.9 774.8,1160.1 774.9,1158.3C775.0,1156.5 775.1,1154.6 775.2,1152.7C775.3,1150.8 775.3,1148.9 775.4,1147.1C775.5,1145.2 775.6,1143.4 775.7,1141.6C775.8,1139.8 775.8,1137.9 775.9,1136.0C776.0,1134.1 776.3,1132.2 776.5,1130.4C776.7,1128.6 776.8,1126.8 777.0,1124.9C777.2,1123.1 777.3,1121.2 777.5,1119.3C777.7,1117.4 777.9,1115.5 778.1,1113.7C778.3,1111.9 778.5,1110.1 778.7,1108.2C778.9,1106.3 779.0,1104.5 779.2,1102.6C779.4,1100.7 779.6,1098.8 779.8,1097.0C780.0,1095.2 780.2,1093.3 780.4,1091.5C780.6,1089.7 780.8,1087.8 781.0,1085.9C781.2,1084.1 781.4,1082.2 781.6,1080.4C781.8,1078.6 782.0,1076.7 782.2,1074.8C782.4,1072.9 782.6,1071.1 782.8,1069.3C783.0,1067.5 783.2,1065.6 783.4,1063.7C783.6,1061.8 783.7,1060.0 783.8,1058.1C783.9,1056.2 784.0,1054.3 784.1,1052.5C784.2,1050.7 784.4,1048.8 784.5,1047.0C784.6,1045.2 784.7,1043.3 784.8,1041.4C784.9,1039.5 785.0,1037.7 785.1,1035.8C785.2,1033.9 785.4,1032.0 785.5,1030.2C785.6,1028.4 785.8,1026.5 785.9,1024.7C786.0,1022.9 786.1,1021.0 786.2,1019.1C786.3,1017.2 786.6,1015.4 786.7,1013.5C786.9,1011.6 787.0,1009.8 787.1,1008.0C787.2,1006.2 787.4,1004.4 787.6,1002.5C787.8,1000.6 788.0,998.8 788.1,996.9C788.2,995.0 788.4,993.1 788.5,991.3C788.6,989.4 788.8,987.6 789.0,985.8C789.2,983.9 789.6,982.1 789.9,980.2C790.2,978.4 790.6,976.6 790.9,974.7C791.2,972.9 791.0,971.0 791.8,969.1C792.6,967.2 794.9,965.2 795.9,963.5C796.9,961.8 797.3,960.2 798.0,958.6C798.7,957.0 799.1,955.0 800.1,953.7C801.1,952.4 802.5,950.3 803.7,951.0C804.9,951.7 806.4,955.9 807.1,957.9C807.8,959.9 807.6,961.2 807.9,962.8C808.2,964.4 808.5,966.0 808.8,967.6C809.1,969.2 809.3,970.9 809.6,972.5C809.9,974.1 810.2,975.6 810.4,977.4C810.6,979.2 810.6,981.4 810.7,983.4C810.8,985.4 810.9,987.3 811.0,989.3C811.1,991.3 811.2,993.3 811.3,995.3C811.4,997.3 811.6,999.2 811.7,1001.2C811.8,1003.2 811.9,1005.2 812.0,1007.2C812.1,1009.2 812.2,1011.1 812.3,1013.1C812.4,1015.1 812.5,1017.2 812.6,1019.1C812.7,1021.0 812.8,1022.9 812.9,1024.7C813.0,1026.5 813.1,1028.4 813.2,1030.2C813.3,1032.0 813.3,1033.9 813.4,1035.8C813.5,1037.7 813.6,1039.5 813.7,1041.4C813.8,1043.3 813.9,1045.2 814.0,1047.0C814.1,1048.8 814.2,1050.7 814.3,1052.5C814.4,1054.3 814.5,1056.2 814.6,1058.1C814.7,1060.0 814.7,1061.8 814.8,1063.7C814.9,1065.6 815.0,1067.4 815.1,1069.2C815.2,1071.0 815.3,1072.9 815.4,1074.8C815.5,1076.7 815.6,1078.6 815.7,1080.4C815.8,1082.2 815.9,1084.1 816.0,1085.9C816.1,1087.8 816.1,1089.6 816.2,1091.5C816.3,1093.4 816.4,1095.2 816.5,1097.1C816.6,1099.0 816.7,1100.8 816.8,1102.7C816.9,1104.6 817.0,1106.4 817.1,1108.2C817.2,1110.0 817.3,1111.9 817.4,1113.8C817.5,1115.7 817.5,1117.6 817.6,1119.4C817.7,1121.2 817.8,1123.1 817.9,1124.9C818.0,1126.8 818.1,1128.6 818.2,1130.5C818.3,1132.4 818.4,1134.5 818.5,1136.5C818.6,1138.5 818.7,1140.4 818.8,1142.4C818.9,1144.4 819.0,1146.4 819.1,1148.4C819.2,1150.4 819.4,1152.3 819.5,1154.3C819.6,1156.3 819.7,1158.3 819.8,1160.3C819.9,1162.3 820.0,1164.2 820.1,1166.2C820.2,1168.2 820.3,1170.4 820.4,1172.2C820.5,1174.0 820.6,1175.3 820.7,1176.9C820.8,1178.5 820.8,1180.0 820.9,1181.6C821.0,1183.2 821.1,1184.6 821.2,1186.3C821.3,1188.0 821.5,1189.9 821.6,1191.7C821.7,1193.5 821.8,1195.4 821.9,1197.2C822.0,1199.0 822.2,1200.8 822.3,1202.6C822.4,1204.4 822.5,1206.3 822.6,1208.1C822.7,1209.9 822.6,1213.8 823.0,1213.5C823.5,1213.2 824.9,1208.1 825.4,1206.1C825.8,1204.0 825.7,1202.8 825.8,1201.2C825.9,1199.6 826.1,1197.9 826.2,1196.2C826.3,1194.5 826.5,1193.0 826.6,1191.3C826.7,1189.6 826.9,1187.9 827.0,1186.3C827.1,1184.7 827.3,1183.1 827.4,1181.4C827.5,1179.8 827.7,1178.1 827.8,1176.4C827.9,1174.8 828.1,1173.2 828.2,1171.5C828.3,1169.8 828.5,1168.2 828.6,1166.5C828.7,1164.8 828.9,1163.2 829.0,1161.6C829.1,1159.9 829.3,1158.2 829.4,1156.6C829.5,1154.9 829.6,1153.3 829.7,1151.7C829.8,1150.1 830.0,1148.4 830.1,1146.7C830.2,1145.0 830.3,1143.5 830.4,1141.8C830.5,1140.1 830.7,1138.4 830.8,1136.8C830.9,1135.2 830.8,1133.3 831.1,1131.9C831.8,1130.5 833.3,1129.4 834.8,1128.2C836.2,1127.0 838.8,1125.8 839.8,1124.5C840.8,1123.2 840.5,1121.8 840.8,1120.4C841.1,1119.0 841.5,1117.6 841.8,1116.2C842.1,1114.8 842.5,1113.6 842.8,1112.1C843.1,1110.6 843.2,1108.8 843.4,1107.2C843.6,1105.6 843.9,1103.9 844.1,1102.2C844.3,1100.5 844.5,1099.0 844.7,1097.3C844.9,1095.6 845.2,1093.9 845.4,1092.3C845.6,1090.7 845.8,1089.1 846.0,1087.4C846.2,1085.8 846.4,1084.1 846.6,1082.4C846.8,1080.8 847.1,1079.2 847.3,1077.5C847.5,1075.8 847.7,1074.2 847.9,1072.5C848.1,1070.8 848.4,1069.2 848.6,1067.6C848.8,1065.9 848.9,1064.2 849.2,1062.6C849.6,1060.9 850.2,1059.3 850.7,1057.7C851.2,1056.1 851.7,1054.2 852.2,1052.7C852.7,1051.2 853.2,1050.0 853.7,1048.6C854.2,1047.2 854.6,1045.9 855.1,1044.5C855.6,1043.1 856.2,1042.0 856.6,1040.4C857.0,1038.8 857.1,1036.7 857.4,1034.8C857.6,1032.9 857.9,1031.0 858.1,1029.2C858.4,1027.4 858.6,1025.5 858.9,1023.7C859.1,1021.9 859.4,1019.9 859.6,1018.1C859.8,1016.4 860.1,1014.9 860.3,1013.2C860.5,1011.6 860.7,1009.9 860.9,1008.2C861.1,1006.6 861.1,1004.3 861.6,1003.3C862.1,1002.3 863.1,1001.2 864.0,1002.0C864.9,1002.8 866.1,1007.2 867.0,1008.2C867.9,1009.2 869.0,1009.0 869.5,1008.2C870.0,1007.4 869.9,1004.9 870.1,1003.3C870.3,1001.6 870.5,999.9 870.7,998.3C870.9,996.6 871.0,995.0 871.2,993.4C871.4,991.8 871.6,990.0 871.8,988.4C872.0,986.8 872.1,985.0 872.4,983.5C872.7,982.0 873.1,980.8 873.5,979.4C873.9,978.0 874.2,976.6 874.6,975.2C875.0,973.8 875.0,972.4 875.7,971.1C876.4,969.8 877.9,967.4 878.9,967.4C879.9,967.4 881.1,969.5 881.8,971.1C882.5,972.7 882.7,975.0 883.1,976.9C883.5,978.8 883.9,980.7 884.3,982.6C884.7,984.5 885.3,986.6 885.6,988.4C885.9,990.2 886.0,991.8 886.3,993.4C886.5,995.0 886.9,996.6 887.1,998.3C887.4,999.9 887.5,1001.6 887.8,1003.3C888.0,1004.9 888.4,1006.6 888.6,1008.2C888.9,1009.9 889.1,1011.5 889.3,1013.2C889.5,1014.9 889.8,1016.8 890.0,1018.6C890.2,1020.4 890.5,1022.3 890.8,1024.1C891.0,1025.9 891.2,1027.7 891.5,1029.5C891.8,1031.3 892.0,1033.2 892.3,1035.0C892.5,1036.8 892.8,1038.6 893.0,1040.4C893.2,1042.2 893.5,1044.0 893.8,1045.8C894.1,1047.6 894.3,1049.3 894.6,1051.1C894.9,1052.9 894.9,1055.6 895.4,1056.5C895.9,1057.4 897.4,1057.3 897.9,1056.5C898.4,1055.7 898.3,1053.3 898.5,1051.8C898.7,1050.2 898.9,1048.7 899.1,1047.2C899.3,1045.7 899.6,1044.1 899.8,1042.6C900.0,1041.0 900.2,1039.5 900.4,1037.9C900.6,1036.3 900.7,1034.7 900.9,1033.0C901.1,1031.3 901.2,1029.7 901.4,1028.0C901.6,1026.3 901.7,1024.8 901.9,1023.1C902.1,1021.5 902.2,1019.8 902.4,1018.1C902.6,1016.5 902.7,1015.0 902.9,1013.2C903.1,1011.4 903.2,1009.3 903.4,1007.3C903.6,1005.3 903.8,1003.3 903.9,1001.3C904.0,999.3 904.1,997.4 904.3,995.4C904.4,993.4 904.6,991.4 904.8,989.4C905.0,987.4 905.1,985.3 905.3,983.5C905.5,981.7 905.7,980.1 905.9,978.5C906.1,976.9 906.3,975.2 906.5,973.6C906.7,972.0 907.0,970.4 907.2,968.7C907.4,967.1 907.2,965.2 907.8,963.7C908.4,962.2 910.0,959.9 910.8,960.0C911.6,960.1 911.9,962.9 912.4,964.3C912.9,965.7 913.0,967.5 914.0,968.6C915.0,969.7 917.4,971.9 918.5,971.1C919.6,970.3 920.0,964.1 920.9,963.7C921.8,963.3 923.3,967.0 923.9,968.6C924.5,970.2 924.4,972.0 924.7,973.6C925.0,975.2 925.3,976.9 925.6,978.5C925.9,980.1 926.0,981.2 926.4,983.5C926.8,985.8 927.4,991.3 928.1,992.1C928.8,992.9 930.1,989.8 930.6,988.4C931.0,987.0 930.9,985.1 931.0,983.5C931.1,981.9 931.3,980.1 931.4,978.5C931.5,976.9 931.7,975.2 931.8,973.6C931.9,972.0 932.1,970.2 932.2,968.6C932.3,967.0 932.5,965.4 932.6,963.7C932.7,962.1 932.8,960.4 932.9,958.7C933.0,957.1 933.2,955.4 933.3,953.8C933.4,952.1 933.5,950.4 933.6,948.8C933.7,947.1 933.9,945.5 934.0,943.9C934.1,942.2 934.2,940.5 934.3,938.9C934.4,937.2 934.6,935.6 934.7,934.0C934.8,932.4 935.0,930.6 935.1,929.0C935.2,927.4 935.4,925.8 935.5,924.1C935.6,922.5 935.8,920.8 935.9,919.1C936.0,917.5 936.1,916.0 936.3,914.2C936.4,912.4 936.6,910.3 936.8,908.3C937.0,906.3 937.1,904.3 937.3,902.3C937.4,900.3 937.6,898.4 937.7,896.4C937.9,894.4 938.0,892.4 938.2,890.4C938.4,888.4 938.5,886.2 938.7,884.5C939.0,882.8 939.4,881.5 939.7,880.0C940.0,878.5 940.4,876.9 940.7,875.4C941.0,873.9 941.0,872.2 941.7,870.9C942.4,869.6 943.8,867.5 944.9,867.7C946.0,867.9 947.4,870.5 948.1,872.2C948.8,873.9 948.6,875.9 948.9,877.8C949.1,879.6 949.4,881.4 949.6,883.3C949.9,885.1 950.1,887.0 950.4,888.9C950.6,890.8 950.9,892.5 951.1,894.4C951.3,896.3 951.5,898.3 951.7,900.3C951.9,902.3 952.1,904.3 952.3,906.3C952.5,908.3 952.7,910.2 952.9,912.2C953.1,914.2 953.3,916.2 953.5,918.2C953.7,920.2 953.9,922.2 954.1,924.1C954.3,926.0 954.5,927.9 954.6,929.8C954.8,931.7 954.9,933.5 955.0,935.4C955.1,937.3 955.4,939.2 955.5,941.1C955.6,943.0 955.8,944.8 955.9,946.7C956.0,948.6 956.2,950.5 956.4,952.4C956.5,954.3 956.6,956.1 956.8,958.0C956.9,959.9 957.1,961.9 957.3,963.7C957.5,965.5 957.6,967.0 957.8,968.6C958.0,970.2 958.1,972.0 958.3,973.6C958.5,975.2 958.6,976.9 958.8,978.5C959.0,980.1 959.1,981.9 959.3,983.5C959.5,985.1 959.3,986.4 959.8,988.4C960.3,990.4 961.4,995.4 962.2,995.8C963.0,996.2 964.1,992.6 964.7,990.9C965.3,989.1 965.3,987.1 965.6,985.3C965.9,983.4 966.2,981.6 966.5,979.8C966.8,977.9 967.2,976.1 967.5,974.2C967.8,972.3 968.1,970.5 968.4,968.6C968.6,966.7 968.8,964.7 969.0,962.7C969.2,960.7 969.4,958.7 969.6,956.7C969.8,954.7 970.0,952.8 970.2,950.8C970.4,948.8 970.6,946.8 970.8,944.8C971.0,942.8 971.2,940.9 971.4,938.9C971.6,936.9 971.8,935.0 972.0,933.0C972.2,931.0 972.5,929.1 972.7,927.1C972.9,925.1 973.1,923.1 973.3,921.1C973.5,919.1 973.8,917.2 974.0,915.2C974.2,913.2 974.4,911.2 974.6,909.3C974.8,907.4 975.1,905.6 975.4,903.7C975.7,901.8 975.9,900.0 976.2,898.1C976.5,896.2 976.7,894.5 977.0,892.6C977.3,890.8 977.4,888.7 977.8,887.0C978.2,885.3 978.8,884.1 979.3,882.6C979.8,881.1 980.0,879.2 980.8,878.3C981.5,877.4 983.0,876.5 983.8,877.1C984.6,877.7 984.9,880.4 985.4,882.0C985.9,883.6 986.2,885.1 987.0,887.0C987.8,888.9 989.0,892.8 990.2,893.2C991.4,893.6 993.3,888.9 994.4,889.5C995.5,890.1 996.4,894.7 996.9,896.9C997.4,899.1 997.3,900.6 997.5,902.5C997.7,904.4 997.9,906.1 998.1,908.0C998.3,909.9 998.5,911.7 998.7,913.6C998.9,915.5 999.1,917.4 999.3,919.2C999.5,921.0 999.6,922.8 999.7,924.6C999.8,926.4 1000.0,928.1 1000.1,929.9C1000.2,931.7 1000.4,933.4 1000.5,935.2C1000.6,937.0 1000.9,938.8 1001.0,940.6C1001.1,942.4 1001.3,944.1 1001.4,945.9C1001.5,947.7 1001.7,949.5 1001.8,951.3C1001.9,953.1 1002.1,954.8 1002.2,956.6C1002.3,958.4 1002.4,960.1 1002.5,961.9C1002.6,963.7 1002.8,965.4 1002.9,967.2C1003.0,969.0 1003.1,970.7 1003.2,972.5C1003.3,974.3 1003.5,976.0 1003.6,977.8C1003.7,979.6 1003.8,981.3 1003.9,983.1C1004.0,984.9 1004.2,986.6 1004.3,988.4C1004.4,990.2 1004.5,992.0 1004.6,993.7C1004.7,995.5 1004.8,997.1 1004.9,998.9C1005.0,1000.6 1005.1,1002.4 1005.2,1004.2C1005.3,1006.0 1005.4,1007.8 1005.5,1009.5C1005.6,1011.2 1005.8,1013.0 1005.9,1014.7C1006.0,1016.5 1006.1,1018.2 1006.2,1020.0C1006.3,1021.8 1006.4,1023.5 1006.5,1025.2C1006.6,1027.0 1006.7,1028.6 1006.8,1030.5C1006.9,1032.4 1007.1,1034.5 1007.2,1036.4C1007.3,1038.4 1007.5,1040.2 1007.6,1042.2C1007.8,1044.2 1008.0,1046.1 1008.1,1048.1C1008.2,1050.1 1008.1,1053.0 1008.5,1054.0C1008.9,1055.0 1010.1,1054.9 1010.5,1054.0C1010.9,1053.1 1010.9,1050.5 1011.1,1048.7C1011.3,1047.0 1011.5,1045.2 1011.7,1043.5C1011.9,1041.8 1012.1,1040.0 1012.3,1038.2C1012.5,1036.4 1012.7,1034.6 1012.9,1032.9C1013.1,1031.2 1013.3,1029.6 1013.5,1028.0C1013.7,1026.4 1013.9,1024.8 1014.1,1023.1C1014.3,1021.5 1014.6,1019.8 1014.8,1018.1C1015.0,1016.5 1015.0,1014.4 1015.4,1013.2C1015.8,1012.0 1016.7,1010.3 1017.2,1010.7C1017.7,1011.1 1017.9,1014.1 1018.2,1015.7C1018.5,1017.4 1018.9,1018.9 1019.1,1020.6C1019.3,1022.3 1019.4,1024.1 1019.5,1025.9C1019.6,1027.7 1019.7,1029.4 1019.8,1031.2C1019.9,1033.0 1020.1,1034.7 1020.2,1036.5C1020.3,1038.3 1020.4,1040.0 1020.5,1041.8C1020.6,1043.6 1020.8,1045.3 1020.9,1047.1C1021.0,1048.9 1021.1,1050.6 1021.2,1052.4C1021.3,1054.2 1021.5,1055.9 1021.6,1057.7C1021.7,1059.5 1021.9,1061.5 1022.0,1063.4C1022.1,1065.3 1022.2,1067.1 1022.3,1069.0C1022.4,1070.9 1022.6,1072.8 1022.7,1074.7C1022.8,1076.6 1022.9,1078.4 1023.0,1080.3C1023.1,1082.2 1023.3,1084.1 1023.4,1086.0C1023.5,1087.9 1023.6,1089.7 1023.7,1091.6C1023.8,1093.5 1024.0,1095.5 1024.1,1097.3C1024.2,1099.1 1024.4,1100.5 1024.5,1102.2C1024.6,1103.9 1024.8,1105.6 1024.9,1107.2C1025.1,1108.8 1025.2,1110.4 1025.4,1112.1C1025.6,1113.8 1025.4,1116.3 1025.8,1117.1C1026.2,1117.9 1027.4,1117.9 1027.8,1117.1C1028.2,1116.3 1028.1,1113.8 1028.2,1112.1C1028.3,1110.4 1028.5,1108.8 1028.6,1107.2C1028.7,1105.6 1028.9,1103.9 1029.0,1102.2C1029.1,1100.5 1029.3,1099.0 1029.4,1097.3C1029.5,1095.6 1029.7,1094.0 1029.8,1092.3C1029.9,1090.6 1030.0,1088.9 1030.2,1087.3C1030.4,1085.7 1030.6,1084.0 1030.7,1082.4C1030.8,1080.8 1031.0,1079.2 1031.1,1077.5C1031.2,1075.8 1031.1,1074.6 1031.5,1072.5C1032.0,1070.4 1033.0,1065.5 1034.0,1065.1C1035.0,1064.7 1036.7,1070.5 1037.7,1070.1C1038.7,1069.7 1039.7,1064.8 1040.2,1062.6C1040.7,1060.4 1040.5,1058.7 1040.7,1056.7C1040.9,1054.7 1041.1,1052.7 1041.2,1050.7C1041.3,1048.7 1041.4,1046.8 1041.6,1044.8C1041.8,1042.8 1041.9,1040.8 1042.1,1038.8C1042.3,1036.8 1042.4,1034.9 1042.6,1032.9C1042.8,1031.0 1042.9,1029.0 1043.0,1027.1C1043.1,1025.2 1043.3,1023.3 1043.4,1021.4C1043.5,1019.5 1043.7,1017.5 1043.8,1015.6C1043.9,1013.7 1044.1,1011.7 1044.3,1009.8C1044.5,1007.9 1044.6,1006.0 1044.7,1004.1C1044.8,1002.2 1044.9,1000.2 1045.1,998.3C1045.2,996.4 1045.4,994.7 1045.6,992.9C1045.8,991.1 1045.9,989.2 1046.1,987.4C1046.3,985.6 1046.4,983.8 1046.6,982.0C1046.8,980.2 1046.9,978.3 1047.1,976.5C1047.3,974.7 1047.4,972.8 1047.6,971.1C1047.8,969.4 1047.9,967.9 1048.0,966.2C1048.1,964.6 1048.3,962.9 1048.4,961.2C1048.5,959.6 1048.7,957.9 1048.8,956.3C1048.9,954.6 1049.1,952.9 1049.2,951.3C1049.3,949.6 1049.2,947.8 1049.6,946.4C1050.1,945.0 1051.5,942.4 1052.0,942.7C1052.5,943.0 1052.5,946.2 1052.8,948.0C1053.1,949.8 1053.4,951.6 1053.7,953.4C1054.0,955.2 1054.3,956.8 1054.5,958.7C1054.7,960.6 1054.8,962.6 1055.0,964.6C1055.2,966.6 1055.3,968.6 1055.5,970.6C1055.7,972.6 1055.8,974.5 1056.0,976.5C1056.2,978.5 1056.3,980.5 1056.5,982.5C1056.7,984.5 1056.8,986.5 1057.0,988.4C1057.2,990.3 1057.3,991.9 1057.4,993.7C1057.5,995.5 1057.6,997.2 1057.7,999.0C1057.8,1000.8 1058.0,1002.5 1058.1,1004.3C1058.2,1006.1 1058.3,1007.8 1058.4,1009.6C1058.5,1011.4 1058.7,1013.1 1058.8,1014.9C1058.9,1016.7 1059.0,1018.4 1059.1,1020.2C1059.2,1022.0 1059.3,1023.8 1059.5,1025.5C1059.7,1027.2 1059.9,1028.8 1060.1,1030.5C1060.3,1032.2 1060.4,1033.8 1060.6,1035.4C1060.8,1037.1 1060.8,1039.6 1061.2,1040.4C1061.6,1041.2 1062.8,1041.3 1063.2,1040.4C1063.5,1039.5 1063.4,1036.8 1063.5,1035.0C1063.6,1033.2 1063.8,1031.3 1063.9,1029.5C1064.0,1027.7 1064.1,1025.9 1064.2,1024.1C1064.3,1022.3 1064.5,1020.4 1064.6,1018.6C1064.7,1016.8 1064.8,1015.1 1064.9,1013.2C1065.0,1011.3 1065.2,1009.3 1065.4,1007.3C1065.6,1005.3 1065.7,1003.3 1065.9,1001.3C1066.1,999.3 1066.2,997.4 1066.4,995.4C1066.6,993.4 1066.7,991.4 1066.9,989.4C1067.1,987.4 1067.2,985.5 1067.4,983.5C1067.6,981.5 1067.9,979.6 1068.2,977.7C1068.5,975.8 1068.7,973.9 1069.0,972.0C1069.3,970.1 1069.2,967.8 1069.8,966.2C1070.3,964.6 1071.5,963.8 1072.3,962.5C1073.1,961.2 1074.3,960.2 1074.8,958.7C1075.3,957.2 1075.2,955.4 1075.5,953.8C1075.8,952.1 1076.0,950.4 1076.3,948.8C1076.5,947.1 1076.8,945.5 1077.0,943.9C1077.2,942.2 1077.6,940.5 1077.8,938.9C1078.0,937.2 1078.1,935.6 1078.3,934.0C1078.5,932.4 1078.6,930.6 1078.8,929.0C1079.0,927.4 1079.0,925.8 1079.2,924.1C1079.4,922.5 1079.5,920.8 1079.7,919.1C1079.9,917.5 1080.0,916.0 1080.2,914.2C1080.4,912.4 1080.6,910.3 1080.8,908.4C1081.0,906.5 1081.3,904.6 1081.5,902.7C1081.7,900.8 1081.8,898.6 1082.1,896.9C1082.3,895.2 1082.7,894.0 1083.0,892.6C1083.3,891.2 1083.5,889.7 1083.8,888.2C1084.1,886.8 1083.8,885.5 1084.7,883.9C1085.6,882.3 1087.7,878.3 1089.1,878.7C1090.5,879.1 1092.2,884.5 1093.0,886.5C1093.8,888.5 1093.7,889.3 1094.0,890.8C1094.3,892.2 1094.8,893.8 1095.1,895.2C1095.4,896.7 1095.5,898.8 1096.1,899.5C1096.7,900.2 1098.2,900.4 1098.7,899.5C1099.2,898.6 1099.1,896.0 1099.3,894.3C1099.5,892.6 1099.8,890.8 1100.0,889.1C1100.2,887.4 1100.5,885.6 1100.7,883.9C1100.9,882.2 1101.1,880.5 1101.3,878.7C1101.5,876.9 1101.8,874.9 1102.0,872.9C1102.2,870.9 1102.4,869.0 1102.6,867.0C1102.8,865.0 1103.0,863.1 1103.2,861.1C1103.4,859.1 1103.6,857.0 1103.9,855.3C1104.2,853.6 1104.8,852.3 1105.2,850.8C1105.6,849.3 1105.7,846.3 1106.5,846.2C1107.3,846.1 1109.2,848.6 1109.9,850.1C1110.4,851.6 1110.2,853.6 1110.4,855.3C1110.6,857.0 1110.7,858.8 1110.9,860.5C1111.1,862.2 1111.3,864.0 1111.5,865.7C1111.7,867.4 1111.8,869.2 1112.0,870.9C1112.2,872.6 1112.3,874.4 1112.5,876.1C1112.7,877.8 1112.8,879.6 1113.0,881.3C1113.2,883.0 1113.3,884.8 1113.5,886.5C1113.7,888.2 1113.9,890.0 1114.1,891.7C1114.3,893.4 1114.4,895.2 1114.6,896.9C1114.8,898.6 1114.7,900.0 1115.1,902.1C1115.5,904.2 1116.4,909.4 1117.1,909.4C1117.8,909.4 1119.0,904.2 1119.5,902.1C1120.0,900.0 1119.8,898.6 1120.0,896.9C1120.2,895.2 1120.3,893.4 1120.5,891.7C1120.7,890.0 1120.9,888.2 1121.1,886.5C1121.3,884.8 1121.4,883.0 1121.6,881.3C1121.8,879.6 1121.9,877.7 1122.1,876.1C1122.3,874.5 1122.6,873.0 1122.8,871.5C1123.0,870.0 1123.2,868.5 1123.4,867.0C1123.6,865.5 1123.8,864.0 1124.0,862.5C1124.2,861.0 1124.4,859.5 1124.7,857.9C1125.0,856.3 1125.4,854.7 1125.8,853.1C1126.2,851.5 1126.6,850.0 1127.0,848.4C1127.4,846.8 1127.2,845.5 1128.1,843.6C1129.0,841.7 1131.2,837.5 1132.5,837.1C1133.8,836.7 1135.1,839.5 1135.8,841.0C1136.5,842.5 1136.4,844.3 1136.7,845.9C1137.0,847.5 1137.2,849.2 1137.5,850.8C1137.8,852.4 1138.0,854.0 1138.3,855.6C1138.6,857.2 1139.0,858.8 1139.2,860.5C1139.4,862.2 1139.5,864.0 1139.7,865.7C1139.9,867.4 1140.0,869.2 1140.2,870.9C1140.4,872.6 1140.6,874.4 1140.8,876.1C1141.0,877.8 1141.1,879.6 1141.3,881.3C1141.5,883.0 1141.6,884.8 1141.8,886.5C1142.0,888.2 1142.1,889.9 1142.3,891.7C1142.5,893.6 1142.8,895.7 1143.0,897.6C1143.2,899.5 1143.4,901.5 1143.6,903.4C1143.8,905.3 1144.0,907.2 1144.2,909.2C1144.4,911.2 1144.2,913.7 1144.9,915.1C1145.6,916.5 1147.5,918.0 1148.1,917.7C1148.7,917.4 1148.5,914.7 1148.7,913.2C1148.9,911.7 1149.1,910.1 1149.3,908.6C1149.5,907.1 1149.8,905.5 1150.0,904.0C1150.2,902.5 1150.4,901.2 1150.6,899.5C1150.8,897.8 1151.1,895.7 1151.3,893.8C1151.5,891.9 1151.8,890.0 1152.0,888.1C1152.2,886.2 1152.4,884.2 1152.6,882.3C1152.8,880.4 1153.1,878.5 1153.3,876.6C1153.5,874.7 1153.7,872.7 1154.0,870.9C1154.3,869.1 1154.7,867.4 1155.0,865.7C1155.3,864.0 1155.7,862.2 1156.0,860.5C1156.3,858.8 1156.6,857.0 1156.9,855.3C1157.2,853.6 1157.5,851.9 1157.9,850.1C1158.3,848.3 1158.7,846.2 1159.1,844.3C1159.5,842.4 1159.8,840.5 1160.2,838.5C1160.6,836.5 1161.0,834.6 1161.4,832.6C1161.8,830.6 1162.2,828.6 1162.6,826.8C1163.0,825.0 1163.4,823.3 1163.8,821.6C1164.2,819.9 1164.6,818.1 1165.0,816.4C1165.4,814.7 1165.2,812.9 1166.2,811.2C1167.2,809.5 1169.2,806.9 1170.9,806.0C1172.6,805.1 1174.4,806.0 1176.1,806.0C1177.8,806.0 1179.9,805.4 1181.3,806.0C1182.7,806.6 1183.3,808.2 1184.4,809.9C1185.5,811.6 1186.2,814.7 1187.8,816.4C1189.4,818.1 1192.6,818.7 1193.8,820.3C1194.7,821.9 1194.4,824.0 1194.7,825.9C1195.0,827.8 1195.2,829.6 1195.5,831.5C1195.8,833.4 1196.1,835.4 1196.4,837.1C1196.7,838.9 1196.9,840.4 1197.1,842.0C1197.3,843.6 1197.5,845.3 1197.7,846.9C1197.9,848.5 1198.1,850.1 1198.3,851.7C1198.5,853.3 1198.3,855.4 1199.0,856.6C1200.3,857.9 1204.4,857.7 1206.0,859.2C1207.6,860.7 1207.5,864.8 1208.6,865.7C1209.7,866.6 1210.9,865.5 1212.5,864.4C1214.1,863.3 1216.7,861.2 1218.2,859.2C1219.7,857.2 1220.4,854.4 1221.6,852.7C1222.8,851.0 1224.2,849.4 1225.5,848.8C1226.8,848.1 1228.3,849.9 1229.4,848.8C1230.5,847.7 1231.3,844.2 1231.9,842.3C1232.5,840.3 1232.5,838.8 1232.8,837.1C1233.1,835.4 1233.3,833.7 1233.6,832.0C1233.9,830.3 1234.2,828.4 1234.5,826.8C1234.8,825.2 1234.9,824.0 1235.1,822.5C1235.3,821.0 1235.6,819.6 1235.8,818.1C1236.0,816.6 1236.0,815.3 1236.4,813.8C1236.8,812.3 1237.5,810.7 1238.1,809.2C1238.6,807.7 1238.8,806.2 1239.7,804.7C1240.6,803.2 1242.2,800.9 1243.6,800.3C1245.0,799.6 1247.0,799.6 1248.3,800.8C1249.6,802.0 1250.7,805.6 1251.4,807.3C1252.1,809.0 1252.1,809.9 1252.4,811.2C1252.8,812.5 1253.2,813.8 1253.5,815.1C1253.8,816.4 1254.2,817.7 1254.5,819.0C1254.8,820.3 1255.2,821.6 1255.6,822.9C1256.0,824.2 1256.4,825.4 1256.8,826.7C1257.2,828.0 1257.4,829.1 1257.9,830.6C1258.4,832.1 1259.0,834.1 1259.6,835.8C1260.2,837.5 1260.9,839.3 1261.3,841.0C1261.7,842.7 1261.8,844.3 1262.0,845.9C1262.2,847.5 1262.4,849.2 1262.6,850.8C1262.8,852.4 1263.0,854.0 1263.2,855.6C1263.4,857.2 1263.7,858.7 1263.9,860.5C1264.1,862.3 1264.2,864.3 1264.4,866.2C1264.6,868.1 1264.7,870.0 1264.9,871.9C1265.1,873.8 1265.3,875.8 1265.5,877.7C1265.7,879.6 1265.8,881.5 1266.0,883.4C1266.2,885.3 1266.3,887.2 1266.5,889.1C1266.7,891.0 1266.8,892.9 1267.0,894.8C1267.2,896.7 1267.3,898.6 1267.5,900.5C1267.7,902.4 1267.9,904.4 1268.1,906.3C1268.3,908.2 1268.4,910.1 1268.6,912.0C1268.8,913.9 1268.9,915.8 1269.1,917.7C1269.3,919.6 1269.4,921.5 1269.6,923.4C1269.8,925.3 1269.9,927.2 1270.1,929.1C1270.3,931.0 1270.5,932.9 1270.7,934.8C1270.9,936.7 1271.0,938.6 1271.2,940.5C1271.4,942.4 1271.6,944.3 1271.7,946.2C1271.8,948.1 1271.8,950.1 1271.8,952.1C1271.8,954.1 1272.0,956.1 1272.0,958.1C1272.0,960.1 1272.0,962.0 1272.1,964.0C1272.1,966.0 1272.2,968.0 1272.3,970.0C1272.3,972.0 1272.4,973.9 1272.4,975.9C1272.5,977.9 1272.5,979.9 1272.6,981.9C1272.6,983.9 1272.7,985.8 1272.7,987.8C1272.7,989.8 1272.8,991.7 1272.8,993.7C1272.8,995.7 1273.0,997.6 1273.0,999.6C1273.0,1001.6 1273.0,1003.5 1273.1,1005.5C1273.1,1007.5 1273.2,1009.4 1273.3,1011.4C1273.3,1013.4 1273.4,1015.3 1273.4,1017.3C1273.5,1019.3 1273.5,1021.2 1273.6,1023.2C1273.6,1025.2 1273.7,1027.1 1273.7,1029.1C1273.8,1031.1 1273.9,1033.0 1273.9,1035.0C1274.0,1037.0 1274.0,1038.9 1274.0,1040.9C1274.0,1042.9 1274.2,1044.8 1274.2,1046.8C1274.2,1048.8 1274.3,1050.8 1274.3,1052.7C1274.3,1054.6 1274.4,1056.5 1274.4,1058.3C1274.5,1060.1 1274.5,1061.9 1274.6,1063.8C1274.6,1065.7 1274.7,1067.5 1274.7,1069.4C1274.8,1071.3 1274.9,1073.1 1274.9,1075.0C1275.0,1076.9 1275.0,1078.8 1275.0,1080.6C1275.0,1082.4 1275.2,1084.2 1275.2,1086.1C1275.2,1087.9 1275.2,1089.8 1275.3,1091.7C1275.3,1093.6 1275.4,1095.5 1275.5,1097.3C1275.6,1099.1 1275.6,1100.9 1275.7,1102.8C1275.8,1104.7 1275.9,1106.6 1275.9,1108.4C1276.0,1110.2 1276.0,1112.1 1276.0,1113.9C1276.0,1115.8 1276.1,1117.7 1276.2,1119.5C1276.3,1121.3 1276.3,1123.2 1276.4,1125.0C1276.5,1126.8 1276.5,1128.7 1276.6,1130.6C1276.7,1132.5 1276.8,1134.5 1276.9,1136.4C1277.0,1138.4 1277.1,1140.3 1277.2,1142.3C1277.3,1144.3 1277.5,1146.2 1277.6,1148.2C1277.7,1150.2 1277.6,1151.7 1277.9,1154.0C1278.2,1156.3 1279.2,1161.5 1279.5,1161.8C1279.8,1162.1 1279.7,1158.0 1279.8,1156.0C1279.9,1154.0 1279.9,1152.1 1280.0,1150.1C1280.1,1148.1 1280.1,1146.2 1280.2,1144.2C1280.3,1142.2 1280.4,1140.3 1280.5,1138.4C1280.6,1136.5 1280.5,1134.5 1280.6,1132.6C1280.6,1130.6 1280.8,1128.7 1280.8,1126.7C1280.8,1124.8 1280.9,1122.8 1280.9,1120.9C1280.9,1119.0 1281.0,1117.0 1281.0,1115.1C1281.0,1113.1 1281.2,1111.2 1281.2,1109.2C1281.2,1107.2 1281.2,1105.4 1281.3,1103.4C1281.3,1101.5 1281.5,1099.5 1281.5,1097.5C1281.5,1095.5 1281.5,1093.6 1281.6,1091.7C1281.6,1089.8 1281.8,1087.8 1281.8,1085.9C1281.8,1084.0 1281.9,1082.0 1281.9,1080.1C1282.0,1078.2 1282.0,1076.3 1282.1,1074.4C1282.2,1072.5 1282.2,1070.5 1282.3,1068.6C1282.3,1066.7 1282.4,1064.7 1282.4,1062.8C1282.5,1060.9 1282.5,1058.9 1282.6,1057.0C1282.7,1055.1 1282.8,1053.2 1282.8,1051.3C1282.8,1049.4 1282.9,1047.4 1282.9,1045.5C1283.0,1043.6 1283.0,1041.6 1283.1,1039.7C1283.2,1037.8 1283.2,1035.8 1283.3,1033.9C1283.4,1032.0 1283.5,1030.1 1283.5,1028.2C1283.5,1026.3 1283.5,1024.3 1283.6,1022.4C1283.6,1020.5 1283.7,1018.5 1283.8,1016.6C1283.9,1014.7 1283.9,1012.8 1284.0,1010.9C1284.1,1009.0 1284.2,1007.0 1284.2,1005.1C1284.2,1003.2 1284.2,1001.2 1284.3,999.3C1284.3,997.4 1284.4,995.5 1284.5,993.6C1284.6,991.7 1284.7,989.7 1284.7,987.8C1284.8,985.9 1284.8,983.9 1284.8,982.0C1284.8,980.1 1285.0,978.1 1285.0,976.2C1285.0,974.3 1285.0,972.4 1285.1,970.5C1285.1,968.6 1285.2,966.6 1285.3,964.7C1285.3,962.8 1285.4,960.8 1285.4,958.9C1285.5,957.0 1285.5,955.0 1285.6,953.1C1285.6,951.2 1285.7,949.3 1285.7,947.4C1285.8,945.5 1285.9,943.5 1285.9,941.6C1286.0,939.7 1285.9,937.7 1286.0,935.8C1286.1,933.9 1286.2,932.1 1286.3,930.2C1286.4,928.4 1286.4,926.6 1286.5,924.7C1286.6,922.9 1286.7,921.0 1286.8,919.1C1286.9,917.2 1286.9,915.5 1287.0,913.6C1287.1,911.8 1287.2,909.9 1287.3,908.0C1287.4,906.1 1287.4,904.4 1287.5,902.5C1287.6,900.6 1287.6,898.6 1287.8,896.9C1288.0,895.2 1288.4,893.8 1288.8,892.3C1289.2,890.8 1289.6,887.8 1289.9,887.8C1290.2,887.8 1290.5,890.8 1290.8,892.3C1291.1,893.8 1291.5,895.2 1291.7,896.9C1291.9,898.6 1292.0,900.7 1292.1,902.6C1292.2,904.5 1292.3,906.4 1292.4,908.3C1292.5,910.2 1292.7,912.2 1292.8,914.1C1292.9,916.0 1293.0,917.9 1293.1,919.8C1293.2,921.7 1293.4,923.7 1293.5,925.5C1293.6,927.3 1293.7,929.0 1293.8,930.7C1293.9,932.4 1294.1,934.2 1294.2,935.9C1294.3,937.6 1294.4,939.3 1294.5,941.0C1294.6,942.7 1294.8,944.5 1294.9,946.2C1295.0,947.9 1295.1,949.7 1295.2,951.4C1295.3,953.1 1295.5,954.8 1295.6,956.6C1295.7,958.4 1295.9,960.4 1296.0,962.3C1296.1,964.2 1296.2,966.1 1296.4,968.0C1296.6,969.9 1296.8,971.9 1296.9,973.8C1297.1,975.7 1297.2,977.6 1297.3,979.5C1297.4,981.4 1297.5,983.4 1297.7,985.2C1297.9,987.0 1298.1,988.7 1298.3,990.4C1298.5,992.1 1298.8,993.9 1299.0,995.6C1299.2,997.3 1299.5,999.1 1299.7,1000.8C1299.9,1002.5 1300.0,1004.4 1300.3,1006.0C1300.5,1007.6 1300.9,1008.8 1301.2,1010.3C1301.5,1011.8 1301.7,1013.2 1302.0,1014.7C1302.3,1016.2 1302.7,1017.4 1302.9,1019.0C1303.1,1020.6 1303.2,1022.5 1303.3,1024.2C1303.4,1025.9 1303.6,1027.7 1303.8,1029.4C1304.0,1031.1 1304.1,1032.8 1304.2,1034.5C1304.3,1036.2 1304.4,1038.0 1304.6,1039.7C1304.8,1041.4 1304.9,1043.2 1305.1,1044.9C1305.2,1046.6 1305.4,1048.4 1305.5,1050.1C1305.6,1051.8 1305.7,1053.6 1305.8,1055.3C1305.9,1057.0 1305.9,1058.8 1306.0,1060.5C1306.1,1062.2 1306.2,1064.0 1306.3,1065.7C1306.4,1067.4 1306.4,1069.2 1306.5,1070.9C1306.6,1072.6 1306.7,1074.4 1306.8,1076.1C1306.9,1077.8 1306.9,1079.6 1307.0,1081.3C1307.1,1083.0 1307.2,1084.7 1307.3,1086.5C1307.4,1088.3 1307.4,1090.2 1307.5,1092.0C1307.6,1093.8 1307.7,1095.7 1307.8,1097.5C1307.9,1099.3 1307.9,1101.2 1308.0,1103.0C1308.1,1104.8 1308.1,1106.7 1308.2,1108.5C1308.3,1110.3 1308.3,1112.2 1308.4,1114.1C1308.5,1115.9 1308.5,1117.8 1308.6,1119.6C1308.7,1121.4 1308.8,1123.3 1308.9,1125.1C1309.0,1126.9 1309.0,1128.8 1309.1,1130.6C1309.2,1132.4 1309.3,1134.1 1309.4,1135.8C1309.5,1137.5 1309.6,1139.3 1309.7,1141.0C1309.8,1142.7 1309.9,1144.5 1310.0,1146.2C1310.1,1147.9 1310.2,1149.7 1310.3,1151.4C1310.4,1153.1 1310.5,1154.9 1310.6,1156.6C1310.7,1158.3 1310.8,1160.1 1310.9,1161.8C1311.0,1163.5 1311.1,1165.4 1311.2,1167.0C1311.3,1168.6 1311.6,1170.0 1311.7,1171.5C1311.8,1173.0 1312.0,1174.6 1312.1,1176.1C1312.2,1177.6 1312.3,1179.2 1312.5,1180.7C1312.7,1182.2 1312.6,1184.5 1313.0,1185.2C1313.4,1186.0 1314.7,1186.1 1315.1,1185.2C1315.5,1184.3 1315.3,1181.7 1315.5,1180.0C1315.7,1178.3 1315.8,1176.5 1316.0,1174.8C1316.2,1173.1 1316.3,1171.3 1316.5,1169.6C1316.7,1167.9 1316.8,1166.2 1316.9,1164.4C1317.0,1162.6 1317.1,1160.7 1317.2,1158.8C1317.3,1156.9 1317.4,1155.1 1317.5,1153.3C1317.6,1151.5 1317.7,1149.5 1317.8,1147.7C1317.9,1145.9 1318.0,1144.1 1318.1,1142.2C1318.2,1140.3 1318.3,1138.4 1318.4,1136.6C1318.5,1134.8 1318.6,1132.9 1318.7,1131.1C1318.8,1129.2 1318.9,1127.4 1319.0,1125.5C1319.1,1123.6 1319.1,1121.7 1319.2,1119.7C1319.3,1117.8 1319.4,1115.8 1319.5,1113.8C1319.6,1111.8 1319.6,1110.0 1319.7,1108.0C1319.8,1106.0 1319.8,1104.1 1319.9,1102.1C1320.0,1100.1 1320.0,1098.2 1320.1,1096.2C1320.2,1094.2 1320.2,1092.4 1320.3,1090.4C1320.4,1088.5 1320.5,1086.5 1320.6,1084.5C1320.7,1082.5 1320.7,1080.6 1320.8,1078.7C1320.9,1076.8 1321.0,1075.0 1321.0,1073.2C1321.0,1071.4 1321.0,1069.5 1321.1,1067.7C1321.1,1065.9 1321.2,1064.1 1321.3,1062.3C1321.4,1060.5 1321.5,1058.6 1321.5,1056.8C1321.5,1055.0 1321.5,1053.1 1321.6,1051.3C1321.6,1049.5 1321.7,1047.6 1321.8,1045.8C1321.9,1044.0 1322.0,1042.2 1322.0,1040.4C1322.0,1038.6 1322.0,1036.7 1322.1,1034.9C1322.1,1033.1 1322.2,1031.2 1322.3,1029.4C1322.4,1027.6 1322.5,1025.9 1322.6,1024.2C1322.7,1022.5 1322.7,1020.7 1322.8,1019.0C1322.9,1017.3 1323.0,1015.5 1323.1,1013.8C1323.2,1012.1 1323.3,1010.3 1323.4,1008.6C1323.5,1006.9 1323.6,1005.1 1323.7,1003.4C1323.8,1001.7 1323.8,999.9 1323.9,998.2C1324.0,996.5 1324.1,994.7 1324.2,993.0C1324.3,991.3 1324.5,989.5 1324.6,987.8C1324.7,986.1 1324.8,984.3 1324.9,982.6C1325.0,980.9 1325.2,979.1 1325.3,977.4C1325.4,975.7 1325.5,973.9 1325.6,972.2C1325.7,970.5 1325.9,968.6 1326.0,967.0C1326.1,965.4 1326.3,964.0 1326.4,962.5C1326.5,961.0 1326.7,959.4 1326.8,957.9C1326.9,956.4 1327.0,954.8 1327.1,953.3C1327.2,951.8 1327.1,950.2 1327.5,948.8C1327.9,947.4 1328.9,944.8 1329.4,944.9C1329.9,945.0 1330.1,948.0 1330.4,949.5C1330.7,951.0 1331.2,952.4 1331.4,954.0C1331.7,955.6 1331.7,957.5 1331.9,959.2C1332.1,960.9 1332.2,962.7 1332.4,964.4C1332.6,966.1 1332.8,967.9 1333.0,969.6C1333.2,971.3 1333.3,973.1 1333.5,974.8C1333.7,976.5 1333.8,978.1 1334.0,980.0C1334.2,981.9 1334.5,983.9 1334.7,985.9C1334.9,987.9 1335.1,989.8 1335.3,991.7C1335.5,993.6 1335.7,995.5 1335.9,997.5C1336.1,999.5 1336.3,1001.7 1336.6,1003.4C1336.9,1005.1 1337.2,1006.2 1337.5,1007.7C1337.8,1009.2 1338.0,1010.7 1338.3,1012.1C1338.6,1013.5 1338.3,1015.0 1339.2,1016.4C1340.1,1017.8 1342.8,1018.6 1343.7,1020.2C1344.5,1021.8 1344.2,1024.1 1344.5,1026.0C1344.8,1027.9 1345.1,1029.8 1345.4,1031.7C1345.7,1033.6 1346.0,1035.7 1346.2,1037.5C1346.4,1039.3 1346.4,1040.8 1346.5,1042.4C1346.6,1044.1 1346.8,1045.8 1346.9,1047.4C1347.0,1049.1 1347.1,1050.7 1347.2,1052.3C1347.3,1053.9 1347.5,1055.6 1347.6,1057.3C1347.7,1059.0 1347.8,1060.5 1347.9,1062.2C1348.0,1063.9 1348.2,1065.6 1348.4,1067.2C1348.6,1068.8 1348.7,1070.5 1348.9,1072.1C1349.1,1073.7 1349.2,1075.3 1349.4,1077.0C1349.6,1078.7 1349.7,1080.2 1349.9,1082.0C1350.2,1083.8 1350.6,1085.7 1350.9,1087.5C1351.2,1089.3 1351.2,1091.3 1351.9,1093.1C1352.6,1094.9 1354.7,1096.5 1355.3,1098.1C1355.8,1099.7 1355.6,1101.2 1355.8,1102.7C1356.0,1104.2 1356.1,1105.8 1356.3,1107.3C1356.5,1108.8 1356.6,1110.5 1356.8,1112.0C1357.0,1113.5 1357.1,1115.0 1357.3,1116.6C1357.5,1118.2 1357.8,1119.9 1358.0,1121.6C1358.2,1123.2 1358.4,1124.8 1358.6,1126.5C1358.8,1128.2 1359.1,1129.9 1359.3,1131.5C1359.5,1133.1 1359.7,1134.5 1359.9,1136.0C1360.1,1137.5 1360.2,1139.1 1360.4,1140.6C1360.6,1142.1 1360.5,1143.5 1361.0,1145.1C1361.5,1146.7 1362.5,1149.4 1363.5,1150.0C1364.5,1150.6 1365.9,1150.2 1366.7,1148.8C1367.5,1147.4 1367.8,1141.8 1368.4,1141.4C1369.0,1141.0 1370.0,1144.7 1370.4,1146.3C1370.8,1147.9 1370.8,1149.6 1371.0,1151.3C1371.2,1153.0 1371.4,1154.5 1371.6,1156.2C1371.8,1157.9 1372.0,1159.4 1372.2,1161.2C1372.5,1163.0 1372.8,1165.0 1373.1,1166.8C1373.4,1168.6 1373.4,1171.4 1373.9,1172.3C1374.4,1173.2 1375.4,1173.2 1375.9,1172.3C1376.4,1171.4 1376.5,1168.6 1376.8,1166.8C1377.1,1165.0 1377.2,1163.0 1377.6,1161.2C1378.0,1159.4 1378.8,1157.9 1379.1,1156.2C1379.3,1154.5 1379.2,1152.6 1379.3,1150.8C1379.3,1149.0 1379.4,1147.3 1379.4,1145.5C1379.5,1143.7 1379.5,1142.0 1379.6,1140.2C1379.7,1138.4 1379.8,1136.6 1379.8,1134.8C1379.8,1133.0 1379.9,1131.2 1379.9,1129.4C1380.0,1127.6 1380.0,1125.9 1380.1,1124.1C1380.2,1122.3 1380.2,1120.4 1380.3,1118.5C1380.4,1116.6 1380.4,1114.8 1380.5,1112.9C1380.6,1111.1 1380.7,1109.2 1380.7,1107.4C1380.8,1105.6 1380.8,1103.7 1380.8,1101.8C1380.8,1099.9 1380.9,1098.0 1381.0,1096.2C1381.1,1094.4 1381.1,1092.6 1381.2,1090.7C1381.3,1088.8 1381.3,1087.0 1381.4,1085.1C1381.5,1083.2 1381.5,1081.4 1381.6,1079.5C1381.7,1077.6 1381.7,1075.8 1381.8,1073.9C1381.9,1072.1 1381.9,1070.2 1382.0,1068.4C1382.1,1066.6 1382.1,1064.7 1382.2,1062.8C1382.3,1060.9 1382.3,1059.0 1382.4,1057.2C1382.5,1055.4 1382.6,1053.6 1382.7,1051.7C1382.8,1049.8 1382.8,1047.9 1382.9,1046.1C1383.0,1044.2 1383.0,1042.4 1383.1,1040.6C1383.2,1038.8 1383.2,1036.8 1383.3,1035.0C1383.4,1033.2 1383.5,1031.4 1383.6,1029.6C1383.7,1027.8 1383.8,1026.1 1383.9,1024.3C1384.0,1022.5 1384.1,1020.7 1384.2,1018.9C1384.3,1017.1 1384.3,1015.3 1384.4,1013.5C1384.5,1011.7 1384.6,1010.0 1384.7,1008.2C1384.8,1006.4 1384.9,1004.5 1385.0,1002.8C1385.1,1001.1 1385.3,999.5 1385.5,997.9C1385.7,996.3 1385.8,994.6 1386.0,993.0C1386.2,991.4 1386.3,989.6 1386.5,988.0C1386.7,986.4 1386.8,984.8 1387.0,983.1C1387.2,981.4 1387.3,979.6 1387.4,977.8C1387.5,976.0 1387.7,974.2 1387.8,972.5C1387.9,970.8 1388.1,969.0 1388.3,967.3C1388.5,965.5 1388.3,963.7 1388.7,962.0C1389.1,960.3 1390.0,957.9 1390.7,957.1C1391.5,956.3 1392.5,955.7 1393.2,957.1C1394.0,958.5 1394.8,963.4 1395.2,965.7C1395.6,968.0 1395.6,969.1 1395.8,970.7C1396.0,972.4 1396.1,974.0 1396.3,975.6C1396.5,977.2 1396.7,978.9 1396.9,980.5C1397.1,982.1 1397.2,983.8 1397.4,985.5C1397.6,987.2 1397.7,988.9 1397.9,990.5C1398.1,992.1 1398.2,993.8 1398.4,995.4C1398.6,997.0 1398.7,998.6 1398.9,1000.3C1399.1,1001.9 1398.9,1003.6 1399.4,1005.3C1399.9,1007.0 1401.1,1010.7 1401.8,1010.3C1402.5,1009.9 1403.4,1005.0 1403.8,1002.8C1404.2,1000.6 1404.2,998.9 1404.4,997.0C1404.6,995.1 1404.8,993.2 1405.0,991.3C1405.2,989.4 1405.2,987.9 1405.6,985.5C1406.0,983.1 1406.6,978.9 1407.3,976.9C1408.0,974.9 1408.8,973.0 1410.0,973.2C1411.2,973.4 1412.7,977.3 1414.2,978.1C1415.7,978.9 1417.9,978.8 1419.2,978.1C1420.5,977.4 1421.2,975.2 1422.2,973.8C1423.2,972.3 1424.5,971.1 1425.3,969.4C1426.1,967.7 1426.4,965.6 1426.9,963.8C1427.5,961.9 1428.1,960.0 1428.6,958.3C1429.0,956.5 1429.2,954.9 1429.6,953.3C1429.9,951.6 1430.3,950.0 1430.7,948.4C1431.1,946.8 1431.5,945.1 1431.8,943.5C1432.1,941.9 1432.4,940.0 1432.8,938.5C1433.2,937.0 1433.9,935.8 1434.4,934.4C1435.0,933.0 1435.5,931.7 1436.1,930.3C1436.6,928.9 1437.2,927.6 1437.7,926.2C1438.2,924.8 1438.9,923.5 1439.4,922.1C1440.0,920.7 1440.5,919.3 1441.0,917.9C1441.5,916.5 1442.2,915.2 1442.7,913.8C1443.2,912.4 1443.8,910.8 1444.3,909.3C1444.8,907.8 1445.5,906.2 1446.0,904.7C1446.5,903.2 1446.7,901.6 1447.6,900.2C1448.5,898.8 1450.3,896.7 1451.3,896.5C1452.3,896.3 1453.3,897.7 1453.8,898.9C1454.3,900.1 1454.2,902.2 1454.4,903.9C1454.6,905.5 1454.8,907.1 1455.0,908.8C1455.2,910.4 1455.5,912.1 1455.7,913.8C1455.9,915.4 1456.0,917.1 1456.3,918.7C1456.5,920.3 1456.9,921.8 1457.2,923.4C1457.5,925.0 1457.7,927.3 1458.2,928.1C1458.7,928.9 1459.8,929.0 1460.2,928.1C1460.6,927.2 1460.6,924.4 1460.8,922.5C1461.0,920.6 1461.2,918.8 1461.4,916.9C1461.6,915.0 1461.7,913.1 1462.0,911.3C1462.3,909.4 1462.8,907.6 1463.2,905.8C1463.6,903.9 1464.0,900.2 1464.4,900.2C1464.8,900.2 1465.3,903.9 1465.7,905.8C1466.1,907.6 1466.4,909.8 1466.9,911.3C1467.4,912.8 1468.0,915.4 1468.6,915.0C1469.2,914.6 1470.2,910.6 1470.6,908.8C1471.0,906.9 1471.0,905.5 1471.2,903.9C1471.4,902.2 1471.5,900.5 1471.7,898.9C1471.9,897.2 1472.2,895.8 1472.3,894.0C1472.4,892.2 1472.5,890.1 1472.6,888.1C1472.7,886.1 1472.7,884.1 1472.8,882.1C1472.9,880.1 1473.0,878.2 1473.1,876.2C1473.2,874.2 1473.2,872.2 1473.3,870.2C1473.4,868.2 1473.4,866.1 1473.6,864.3C1473.8,862.5 1474.1,861.0 1474.3,859.4C1474.5,857.8 1474.7,856.0 1474.9,854.4C1475.1,852.8 1475.1,851.4 1475.6,849.5C1476.1,847.6 1477.2,843.3 1478.0,843.3C1478.8,843.3 1479.9,847.6 1480.5,849.5C1481.1,851.4 1481.2,852.8 1481.5,854.4C1481.8,856.0 1482.2,857.8 1482.5,859.4C1482.8,861.0 1482.5,863.7 1483.5,864.3C1484.7,864.9 1488.0,862.5 1489.7,863.1C1491.4,863.7 1492.6,866.3 1493.4,868.0C1494.2,869.7 1494.1,871.6 1494.4,873.4C1494.7,875.2 1495.0,876.9 1495.3,878.7C1495.6,880.5 1496.0,882.4 1496.3,884.1C1496.6,885.8 1496.7,887.4 1496.9,889.0C1497.1,890.6 1497.3,892.3 1497.5,894.0C1497.7,895.7 1498.0,897.4 1498.2,899.0C1498.4,900.6 1498.6,902.1 1498.8,903.9C1499.0,905.7 1499.3,907.8 1499.6,909.7C1499.9,911.6 1500.2,913.5 1500.5,915.4C1500.8,917.3 1500.8,919.2 1501.3,921.2C1501.8,923.2 1502.6,926.6 1503.3,927.4C1504.0,928.2 1505.2,927.2 1505.7,926.2C1506.2,925.2 1506.2,922.9 1506.4,921.2C1506.6,919.6 1506.8,917.9 1507.0,916.3C1507.2,914.6 1507.5,912.9 1507.7,911.3C1507.9,909.6 1508.2,908.0 1508.4,906.4C1508.6,904.8 1508.8,903.0 1509.0,901.4C1509.2,899.8 1509.0,898.1 1509.7,896.5C1510.4,894.9 1511.8,892.7 1513.2,891.5C1514.6,890.3 1516.5,890.8 1518.1,889.1C1519.7,887.5 1521.6,883.7 1522.6,881.6C1523.6,879.5 1523.5,878.4 1524.0,876.7C1524.5,875.1 1524.8,873.6 1525.5,871.7C1526.2,869.9 1527.2,866.8 1528.0,865.6C1528.8,864.5 1529.7,864.0 1530.5,864.8C1531.3,865.6 1532.0,868.7 1532.9,870.5C1533.8,872.3 1534.9,874.6 1535.9,875.4C1536.9,876.2 1538.1,876.4 1539.1,875.4C1540.0,874.4 1540.7,870.9 1541.6,869.3C1542.5,867.7 1543.7,865.6 1544.6,865.6C1545.5,865.6 1546.6,867.7 1547.1,869.3C1547.6,870.9 1547.5,873.2 1547.7,875.1C1547.9,877.0 1548.2,878.9 1548.4,880.8C1548.6,882.7 1548.8,884.8 1549.0,886.6C1549.2,888.4 1549.3,889.9 1549.4,891.5C1549.5,893.1 1549.6,894.9 1549.7,896.5C1549.8,898.1 1550.0,899.8 1550.1,901.4C1550.2,903.0 1550.3,904.8 1550.4,906.4C1550.5,908.0 1550.7,909.5 1550.8,911.3C1550.9,913.0 1551.1,915.0 1551.2,916.9C1551.3,918.8 1551.4,920.6 1551.5,922.5C1551.6,924.4 1551.7,926.1 1551.8,928.0C1551.9,929.9 1551.8,931.5 1552.2,933.6C1552.6,935.7 1553.6,940.0 1554.0,940.5C1554.4,941.0 1554.4,937.8 1554.6,936.5C1554.8,935.2 1554.9,933.9 1555.1,932.6C1555.3,931.3 1555.5,930.1 1555.7,928.6C1555.9,927.1 1556.0,925.4 1556.1,923.7C1556.2,922.1 1556.4,920.4 1556.5,918.7C1556.6,917.1 1556.8,915.4 1556.9,913.8C1557.0,912.1 1557.2,910.4 1557.3,908.8C1557.4,907.1 1557.5,905.5 1557.7,903.9C1557.9,902.3 1558.0,900.6 1558.2,899.0C1558.4,897.4 1558.5,895.7 1558.7,894.0C1558.9,892.3 1559.0,890.6 1559.2,889.0C1559.4,887.4 1559.5,885.8 1559.7,884.1C1559.9,882.5 1560.2,880.8 1560.4,879.1C1560.7,877.5 1561.0,875.9 1561.2,874.2C1561.5,872.6 1561.7,870.9 1561.9,869.2C1562.1,867.6 1562.3,865.8 1562.6,864.3C1562.9,862.8 1563.3,861.6 1563.6,860.2C1563.9,858.8 1564.3,857.4 1564.6,856.0C1564.9,854.6 1564.9,853.8 1565.6,851.9C1566.3,850.0 1567.8,847.2 1568.8,844.5C1569.8,841.8 1570.5,837.9 1571.3,835.9C1572.1,833.9 1572.8,832.4 1573.8,832.2C1574.8,832.0 1576.2,835.0 1577.5,834.6C1578.8,834.2 1580.8,829.7 1581.9,829.7C1583.1,829.7 1583.7,832.3 1584.4,834.6C1585.1,836.9 1585.4,842.0 1586.1,843.3C1586.8,844.5 1587.8,843.5 1588.6,842.1C1589.4,840.7 1590.3,835.6 1591.1,834.6C1591.9,833.6 1593.1,834.8 1593.6,835.9C1594.0,837.0 1593.9,839.4 1594.0,841.1C1594.1,842.9 1594.2,844.6 1594.4,846.4C1594.6,848.1 1594.8,849.9 1594.9,851.6C1595.1,853.4 1595.2,855.0 1595.3,856.9C1595.4,858.8 1595.5,860.8 1595.6,862.8C1595.7,864.8 1595.8,866.8 1595.9,868.8C1596.0,870.8 1596.1,872.7 1596.2,874.7C1596.3,876.7 1596.4,878.7 1596.5,880.7C1596.6,882.7 1596.7,884.8 1596.8,886.6C1596.9,888.4 1597.0,889.9 1597.1,891.5C1597.2,893.1 1597.3,894.8 1597.4,896.5C1597.5,898.2 1597.6,899.9 1597.7,901.5C1597.8,903.1 1597.8,904.6 1598.0,906.4C1598.2,908.1 1598.5,910.1 1598.8,912.0C1599.1,913.9 1599.3,918.0 1599.7,917.5C1600.1,917.0 1600.9,911.2 1601.2,908.8C1601.5,906.4 1601.5,905.1 1601.6,903.2C1601.7,901.4 1601.9,899.6 1602.0,897.7C1602.1,895.9 1602.2,894.0 1602.3,892.1C1602.4,890.2 1602.6,888.5 1602.7,886.6C1602.8,884.8 1603.0,882.9 1603.1,881.0C1603.2,879.1 1603.4,877.4 1603.5,875.5C1603.6,873.6 1603.7,871.8 1603.8,869.9C1603.9,868.0 1604.1,866.1 1604.2,864.3C1604.3,862.5 1604.4,860.9 1604.6,859.3C1604.8,857.6 1604.9,856.0 1605.1,854.4C1605.2,852.8 1605.4,851.1 1605.5,849.5C1605.6,847.9 1605.7,846.1 1605.9,844.5C1606.1,842.9 1606.3,841.4 1606.5,839.9C1606.7,838.4 1607.0,836.8 1607.2,835.2C1607.4,833.7 1607.6,832.1 1607.8,830.6C1608.0,829.1 1608.3,826.8 1608.4,826.0"/>
<line x1="90" y1="1364.5" x2="1611" y2="1364.5" stroke="#000" stroke-width="3.6"/><line x1="92" y1="1364" x2="92" y2="1388.5" stroke="#000" stroke-width="3.6"/><line x1="598" y1="1364" x2="598" y2="1388.5" stroke="#000" stroke-width="3.6"/><line x1="1103" y1="1364" x2="1103" y2="1388.5" stroke="#000" stroke-width="3.6"/><line x1="1608.7" y1="1364" x2="1608.7" y2="1388.5" stroke="#000" stroke-width="3.6"/><line x1="345.5" y1="1364" x2="345.5" y2="1375.8" stroke="#000" stroke-width="3.6"/><line x1="850.6" y1="1364" x2="850.6" y2="1375.8" stroke="#000" stroke-width="3.6"/><line x1="1355" y1="1364" x2="1355" y2="1375.8" stroke="#000" stroke-width="3.6"/>
<text x="93" y="1455" class="tk" text-anchor="middle">2000</text><text x="598.5" y="1455" class="tk" text-anchor="middle">1500</text><text x="1102.5" y="1455" class="tk" text-anchor="middle">1000</text><text x="1607.8" y="1455" class="tk" text-anchor="middle">500</text>
<text x="568.5" y="1592.3" class="xl">Wavenumber (cm<tspan font-size="44" dy="-28" font-weight="normal">−</tspan><tspan font-size="41">1</tspan><tspan dy="28">)</tspan></text>
<line x1="1328.7" y1="53.3" x2="1458" y2="53.3" stroke="#515151" stroke-width="3.6"/>
<line x1="1328.7" y1="160.5" x2="1458" y2="160.5" stroke="#F14040" stroke-width="3.6"/>
<text x="1489" y="76" class="lg" font-size="63.3">DQBM-B</text>
<text x="1489" y="183" class="lg" font-size="63.3">DQBM-B-Co<tspan font-size="42" dy="-25">2+</tspan></text>
<line x1="476.4" y1="570" x2="476.8" y2="673.2" stroke="#000" stroke-width="3.3"/><polygon points="476.8,677.2 467.1,637.2 486.3,637.2" fill="#000"/>
<line x1="712" y1="604.7" x2="827.9" y2="614.7" stroke="#000" stroke-width="3.3"/><polygon points="831.9,615.0 791.2,621.1 792.9,602.0" fill="#000"/>
<line x1="473" y1="920.7" x2="594.7" y2="902.8" stroke="#000" stroke-width="3.3"/><polygon points="598.7,902.2 560.5,917.5 557.7,898.5" fill="#000"/>
<text x="264" y="747.4" class="an" font-size="62.5">1620 cm<tspan font-size="41" dy="-26.5">−1</tspan></text>
<text x="835.5" y="644" class="an" font-size="62.5">1389 cm<tspan font-size="41" dy="-26.5">−1</tspan></text>
<text x="608.5" y="914.9" class="an" font-size="62.5">1621 cm<tspan font-size="41" dy="-26.5">−1</tspan></text>
</svg>
</body></html>
